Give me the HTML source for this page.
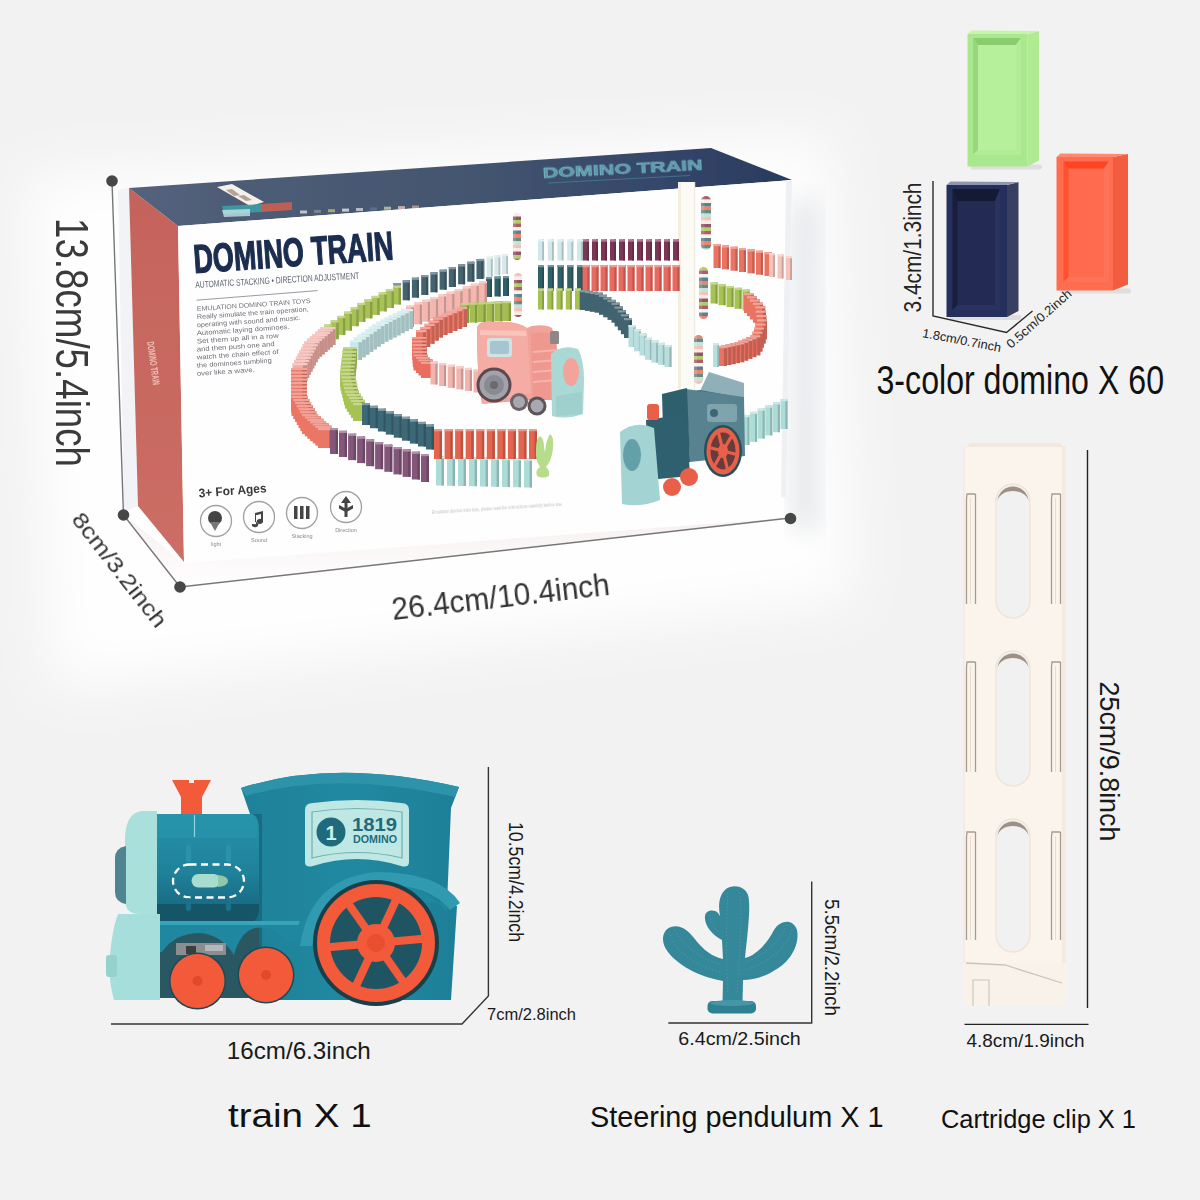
<!DOCTYPE html>
<html><head><meta charset="utf-8"><style>
html,body{margin:0;padding:0;background:#f2f2f2;}
body{width:1200px;height:1200px;overflow:hidden;font-family:"Liberation Sans",sans-serif;}
svg{display:block;}
</style></head><body>
<svg width="1200" height="1200" viewBox="0 0 1200 1200">
<defs>
<filter id="blur30" x="-30%" y="-30%" width="160%" height="160%"><feGaussianBlur stdDeviation="28"/></filter>
<filter id="blur12" x="-30%" y="-30%" width="160%" height="160%"><feGaussianBlur stdDeviation="12"/></filter>
<filter id="soft" x="-5%" y="-5%" width="110%" height="110%"><feGaussianBlur stdDeviation="0.7"/></filter>
<filter id="soft2" x="-5%" y="-5%" width="110%" height="110%"><feGaussianBlur stdDeviation="0.45"/></filter>
<linearGradient id="topface" x1="0" y1="0" x2="1" y2="0">
<stop offset="0" stop-color="#56637e"/><stop offset="0.15" stop-color="#4e5c76"/><stop offset="0.5" stop-color="#45566f"/><stop offset="0.8" stop-color="#34466a"/><stop offset="1" stop-color="#2a3b5d"/>
</linearGradient>
<linearGradient id="sidepanel" x1="0" y1="0" x2="0" y2="1">
<stop offset="0" stop-color="#c4635b"/><stop offset="1" stop-color="#cc6e66"/>
</linearGradient>
<linearGradient id="floor" x1="0" y1="0" x2="0" y2="1">
<stop offset="0" stop-color="#f7eeee"/><stop offset="1" stop-color="#ffffff"/>
</linearGradient>
</defs>
<rect x="0" y="0" width="1200" height="1200" fill="#f2f2f2"/>
<g filter="url(#blur30)"><path d="M25,175 L830,135 L855,600 L50,690 Z" fill="#ffffff" opacity="0.95"/></g>
<g filter="url(#blur12)"><rect x="792" y="200" width="26" height="330" fill="#dfe2e6" opacity="0.8"/></g>
<g filter="url(#soft2)">
<polygon points="124,515 184,563 790,518 180,587" fill="url(#floor)" opacity="0.9"/>
<polygon points="118,190 129,188 138,506 124,512" fill="#f1f3f6"/>
<polygon points="129,188 178,226 184,562 138,506" fill="url(#sidepanel)"/>
<polygon points="129,188 711,148 792,180 178,226" fill="url(#topface)"/>
<g transform="translate(543,178) rotate(-3.0)" filter="url(#soft)"><text font-family="Liberation Sans, sans-serif" font-weight="bold" font-size="14" fill="#5aa6b6" stroke="#8fd0da" stroke-width="0.5" opacity="0.85" textLength="160" lengthAdjust="spacingAndGlyphs">DOMINO TRAIN</text></g>
<line x1="548" y1="183" x2="690" y2="175.5" stroke="#4b8fa0" stroke-width="1" opacity="0.6"/>
<polygon points="217,187 232,184 264,202 250,206" fill="#f4f1ea"/>
<polygon points="226,190 232,189 240,195 234,196" fill="#8a6a5a" opacity="0.6"/><polygon points="238,196 244,195 252,200 246,201" fill="#8a6a5a" opacity="0.6"/>
<polygon points="222,206 262,204 262,212 224,214" fill="#3fa0a8" opacity="0.85"/>
<polygon points="262,204 292,202 292,210 262,212" fill="#d8604e" opacity="0.8"/>
<polygon points="222,210 250,209 250,216 224,217" fill="#bfe3e6" opacity="0.8"/>
<rect x="300.0" y="210.5" width="7" height="3" fill="#e8e8e8" opacity="0.75"/>
<rect x="314.0" y="209.9" width="7" height="3" fill="#8a8f9a" opacity="0.75"/>
<rect x="328.0" y="209.2" width="7" height="3" fill="#b8c870" opacity="0.75"/>
<rect x="342.0" y="208.6" width="7" height="3" fill="#f0f0f0" opacity="0.75"/>
<rect x="356.0" y="208.0" width="7" height="3" fill="#d8dde0" opacity="0.75"/>
<rect x="370.0" y="207.3" width="7" height="3" fill="#6a6f9a" opacity="0.75"/>
<rect x="384.0" y="206.7" width="7" height="3" fill="#c8d8b0" opacity="0.75"/>
<rect x="398.0" y="206.1" width="7" height="3" fill="#f0c8c0" opacity="0.75"/>
<rect x="412.0" y="205.5" width="7" height="3" fill="#c8a890" opacity="0.75"/>
<polygon points="178,226 792,180 786,497 184,563" fill="#fefefe"/>
<polygon points="786,180.5 792,180 786,497 781,497.5" fill="#eef0f3"/>
</g>
<g filter="url(#soft)">
<rect x="678" y="182" width="17" height="212" fill="#fcfaf4"/>
<rect x="678" y="182" width="3" height="212" fill="#f3eedf"/><rect x="694" y="182" width="1.2" height="212" fill="#f0ebe0"/>
<rect x="502.0" y="254.0" width="6.0" height="20.0" fill="#d6e8e9"/><rect x="506.2" y="254.0" width="1.8" height="20.0" fill="#afbebf"/><rect x="502.0" y="254.0" width="6.0" height="2.2" fill="#e4f0f0"/><rect x="494.3" y="255.3" width="6.0" height="20.0" fill="#d6e8e9"/><rect x="498.5" y="255.3" width="1.8" height="20.0" fill="#afbebf"/><rect x="494.3" y="255.3" width="6.0" height="2.2" fill="#e4f0f0"/><rect x="486.7" y="256.7" width="6.0" height="20.0" fill="#d6e8e9"/><rect x="490.9" y="256.7" width="1.8" height="20.0" fill="#afbebf"/><rect x="486.7" y="256.7" width="6.0" height="2.2" fill="#e4f0f0"/><rect x="479.0" y="258.0" width="6.0" height="20.0" fill="#d6e8e9"/><rect x="483.2" y="258.0" width="1.8" height="20.0" fill="#afbebf"/><rect x="479.0" y="258.0" width="6.0" height="2.2" fill="#e4f0f0"/><rect x="476.5" y="259.0" width="7.0" height="20.0" fill="#44626f"/><rect x="481.4" y="259.0" width="2.1" height="20.0" fill="#37505b"/><rect x="476.5" y="259.0" width="7.0" height="2.2" fill="#8598a1"/><rect x="467.3" y="261.7" width="7.0" height="20.0" fill="#44626f"/><rect x="472.2" y="261.7" width="2.1" height="20.0" fill="#37505b"/><rect x="467.3" y="261.7" width="7.0" height="2.2" fill="#8598a1"/><rect x="458.1" y="264.3" width="7.0" height="20.0" fill="#44626f"/><rect x="463.0" y="264.3" width="2.1" height="20.0" fill="#37505b"/><rect x="458.1" y="264.3" width="7.0" height="2.2" fill="#8598a1"/><rect x="448.8" y="267.0" width="7.0" height="20.0" fill="#44626f"/><rect x="453.7" y="267.0" width="2.1" height="20.0" fill="#37505b"/><rect x="448.8" y="267.0" width="7.0" height="2.2" fill="#8598a1"/><rect x="439.6" y="269.7" width="7.0" height="20.0" fill="#44626f"/><rect x="444.5" y="269.7" width="2.1" height="20.0" fill="#37505b"/><rect x="439.6" y="269.7" width="7.0" height="2.2" fill="#8598a1"/><rect x="430.4" y="272.3" width="7.0" height="20.0" fill="#44626f"/><rect x="435.3" y="272.3" width="2.1" height="20.0" fill="#37505b"/><rect x="430.4" y="272.3" width="7.0" height="2.2" fill="#8598a1"/><rect x="421.2" y="275.0" width="7.0" height="20.0" fill="#44626f"/><rect x="426.1" y="275.0" width="2.1" height="20.0" fill="#37505b"/><rect x="421.2" y="275.0" width="7.0" height="2.2" fill="#8598a1"/><rect x="411.9" y="277.7" width="7.0" height="20.0" fill="#44626f"/><rect x="416.8" y="277.7" width="2.1" height="20.0" fill="#37505b"/><rect x="411.9" y="277.7" width="7.0" height="2.2" fill="#8598a1"/><rect x="402.7" y="280.3" width="7.0" height="20.0" fill="#44626f"/><rect x="407.6" y="280.3" width="2.1" height="20.0" fill="#37505b"/><rect x="402.7" y="280.3" width="7.0" height="2.2" fill="#8598a1"/><rect x="393.5" y="283.0" width="7.0" height="20.0" fill="#44626f"/><rect x="398.4" y="283.0" width="2.1" height="20.0" fill="#37505b"/><rect x="393.5" y="283.0" width="7.0" height="2.2" fill="#8598a1"/><rect x="393.0" y="285.5" width="8.0" height="19.0" fill="#a9c257"/><rect x="398.6" y="285.5" width="2.4" height="19.0" fill="#8a9f47"/><rect x="393.0" y="285.5" width="8.0" height="2.2" fill="#c7d791"/><rect x="385.9" y="289.0" width="8.0" height="19.0" fill="#a9c257"/><rect x="391.5" y="289.0" width="2.4" height="19.0" fill="#8a9f47"/><rect x="385.9" y="289.0" width="8.0" height="2.2" fill="#c7d791"/><rect x="378.7" y="292.4" width="8.0" height="19.0" fill="#a9c257"/><rect x="384.3" y="292.4" width="2.4" height="19.0" fill="#8a9f47"/><rect x="378.7" y="292.4" width="8.0" height="2.2" fill="#c7d791"/><rect x="371.6" y="295.9" width="8.0" height="19.0" fill="#a9c257"/><rect x="377.2" y="295.9" width="2.4" height="19.0" fill="#8a9f47"/><rect x="371.6" y="295.9" width="8.0" height="2.2" fill="#c7d791"/><rect x="364.4" y="299.4" width="8.0" height="19.0" fill="#a9c257"/><rect x="370.0" y="299.4" width="2.4" height="19.0" fill="#8a9f47"/><rect x="364.4" y="299.4" width="8.0" height="2.2" fill="#c7d791"/><rect x="357.3" y="302.9" width="8.0" height="19.0" fill="#a9c257"/><rect x="362.9" y="302.9" width="2.4" height="19.0" fill="#8a9f47"/><rect x="357.3" y="302.9" width="8.0" height="2.2" fill="#c7d791"/><rect x="350.7" y="307.2" width="8.0" height="19.0" fill="#a9c257"/><rect x="356.3" y="307.2" width="2.4" height="19.0" fill="#8a9f47"/><rect x="350.7" y="307.2" width="8.0" height="2.2" fill="#c7d791"/><rect x="344.0" y="311.6" width="8.0" height="19.0" fill="#a9c257"/><rect x="349.6" y="311.6" width="2.4" height="19.0" fill="#8a9f47"/><rect x="344.0" y="311.6" width="8.0" height="2.2" fill="#c7d791"/><rect x="337.3" y="315.9" width="8.0" height="19.0" fill="#a9c257"/><rect x="342.9" y="315.9" width="2.4" height="19.0" fill="#8a9f47"/><rect x="337.3" y="315.9" width="8.0" height="2.2" fill="#c7d791"/><rect x="330.7" y="320.2" width="8.0" height="19.0" fill="#a9c257"/><rect x="336.3" y="320.2" width="2.4" height="19.0" fill="#8a9f47"/><rect x="330.7" y="320.2" width="8.0" height="2.2" fill="#c7d791"/><rect x="324.0" y="324.5" width="8.0" height="19.0" fill="#a9c257"/><rect x="329.6" y="324.5" width="2.4" height="19.0" fill="#8a9f47"/><rect x="324.0" y="324.5" width="8.0" height="2.2" fill="#c7d791"/><rect x="320.5" y="327.0" width="15.0" height="18.0" fill="#f2aea6"/><rect x="331.0" y="327.0" width="4.5" height="18.0" fill="#c68e88"/><rect x="320.5" y="327.0" width="15.0" height="2.2" fill="#f6cac5"/><rect x="317.8" y="329.3" width="15.0" height="18.0" fill="#f2aea6"/><rect x="328.3" y="329.3" width="4.5" height="18.0" fill="#c68e88"/><rect x="317.8" y="329.3" width="15.0" height="2.2" fill="#f6cac5"/><rect x="315.1" y="331.7" width="15.0" height="18.0" fill="#f2aea6"/><rect x="325.6" y="331.7" width="4.5" height="18.0" fill="#c68e88"/><rect x="315.1" y="331.7" width="15.0" height="2.2" fill="#f6cac5"/><rect x="312.5" y="334.0" width="15.0" height="18.0" fill="#f2aea6"/><rect x="323.0" y="334.0" width="4.5" height="18.0" fill="#c68e88"/><rect x="312.5" y="334.0" width="15.0" height="2.2" fill="#f6cac5"/><rect x="309.8" y="336.4" width="15.0" height="18.0" fill="#f2aea6"/><rect x="320.3" y="336.4" width="4.5" height="18.0" fill="#c68e88"/><rect x="309.8" y="336.4" width="15.0" height="2.2" fill="#f6cac5"/><rect x="307.1" y="338.7" width="15.0" height="18.0" fill="#f2aea6"/><rect x="317.6" y="338.7" width="4.5" height="18.0" fill="#c68e88"/><rect x="307.1" y="338.7" width="15.0" height="2.2" fill="#f6cac5"/><rect x="304.4" y="341.1" width="15.0" height="18.0" fill="#f2aea6"/><rect x="314.9" y="341.1" width="4.5" height="18.0" fill="#c68e88"/><rect x="304.4" y="341.1" width="15.0" height="2.2" fill="#f6cac5"/><rect x="302.7" y="344.2" width="15.0" height="18.0" fill="#f2aea6"/><rect x="313.2" y="344.2" width="4.5" height="18.0" fill="#c68e88"/><rect x="302.7" y="344.2" width="15.0" height="2.2" fill="#f6cac5"/><rect x="301.0" y="347.4" width="15.0" height="18.0" fill="#f2aea6"/><rect x="311.5" y="347.4" width="4.5" height="18.0" fill="#c68e88"/><rect x="301.0" y="347.4" width="15.0" height="2.2" fill="#f6cac5"/><rect x="299.3" y="350.5" width="15.0" height="18.0" fill="#f2aea6"/><rect x="309.8" y="350.5" width="4.5" height="18.0" fill="#c68e88"/><rect x="299.3" y="350.5" width="15.0" height="2.2" fill="#f6cac5"/><rect x="297.6" y="353.6" width="15.0" height="18.0" fill="#f2aea6"/><rect x="308.1" y="353.6" width="4.5" height="18.0" fill="#c68e88"/><rect x="297.6" y="353.6" width="15.0" height="2.2" fill="#f6cac5"/><rect x="295.9" y="356.7" width="15.0" height="18.0" fill="#f2aea6"/><rect x="306.4" y="356.7" width="4.5" height="18.0" fill="#c68e88"/><rect x="295.9" y="356.7" width="15.0" height="2.2" fill="#f6cac5"/><rect x="294.2" y="359.9" width="15.0" height="18.0" fill="#f2aea6"/><rect x="304.7" y="359.9" width="4.5" height="18.0" fill="#c68e88"/><rect x="294.2" y="359.9" width="15.0" height="2.2" fill="#f6cac5"/><rect x="292.5" y="363.0" width="15.0" height="18.0" fill="#f2aea6"/><rect x="303.0" y="363.0" width="4.5" height="18.0" fill="#c68e88"/><rect x="292.5" y="363.0" width="15.0" height="2.2" fill="#f6cac5"/><rect x="291.0" y="368.0" width="16.0" height="20.0" fill="#ea7665"/><rect x="302.2" y="368.0" width="4.8" height="20.0" fill="#bf6052"/><rect x="291.0" y="368.0" width="16.0" height="2.2" fill="#f1a59a"/><rect x="291.0" y="371.5" width="16.0" height="20.0" fill="#ea7665"/><rect x="302.2" y="371.5" width="4.8" height="20.0" fill="#bf6052"/><rect x="291.0" y="371.5" width="16.0" height="2.2" fill="#f1a59a"/><rect x="291.0" y="375.0" width="16.0" height="20.0" fill="#ea7665"/><rect x="302.2" y="375.0" width="4.8" height="20.0" fill="#bf6052"/><rect x="291.0" y="375.0" width="16.0" height="2.2" fill="#f1a59a"/><rect x="291.0" y="378.5" width="16.0" height="20.0" fill="#ea7665"/><rect x="302.2" y="378.5" width="4.8" height="20.0" fill="#bf6052"/><rect x="291.0" y="378.5" width="16.0" height="2.2" fill="#f1a59a"/><rect x="291.0" y="382.0" width="16.0" height="20.0" fill="#ea7665"/><rect x="302.2" y="382.0" width="4.8" height="20.0" fill="#bf6052"/><rect x="291.0" y="382.0" width="16.0" height="2.2" fill="#f1a59a"/><rect x="291.0" y="385.6" width="16.0" height="20.0" fill="#ea7665"/><rect x="302.2" y="385.6" width="4.8" height="20.0" fill="#bf6052"/><rect x="291.0" y="385.6" width="16.0" height="2.2" fill="#f1a59a"/><rect x="291.0" y="389.1" width="16.0" height="20.0" fill="#ea7665"/><rect x="302.2" y="389.1" width="4.8" height="20.0" fill="#bf6052"/><rect x="291.0" y="389.1" width="16.0" height="2.2" fill="#f1a59a"/><rect x="291.0" y="392.6" width="16.0" height="20.0" fill="#ea7665"/><rect x="302.2" y="392.6" width="4.8" height="20.0" fill="#bf6052"/><rect x="291.0" y="392.6" width="16.0" height="2.2" fill="#f1a59a"/><rect x="291.5" y="395.9" width="16.0" height="20.0" fill="#ea7665"/><rect x="302.7" y="395.9" width="4.8" height="20.0" fill="#bf6052"/><rect x="291.5" y="395.9" width="16.0" height="2.2" fill="#f1a59a"/><rect x="293.3" y="399.0" width="16.0" height="20.0" fill="#ea7665"/><rect x="304.5" y="399.0" width="4.8" height="20.0" fill="#bf6052"/><rect x="293.3" y="399.0" width="16.0" height="2.2" fill="#f1a59a"/><rect x="295.1" y="402.0" width="16.0" height="20.0" fill="#ea7665"/><rect x="306.3" y="402.0" width="4.8" height="20.0" fill="#bf6052"/><rect x="295.1" y="402.0" width="16.0" height="2.2" fill="#f1a59a"/><rect x="296.8" y="405.1" width="16.0" height="20.0" fill="#ea7665"/><rect x="308.0" y="405.1" width="4.8" height="20.0" fill="#bf6052"/><rect x="296.8" y="405.1" width="16.0" height="2.2" fill="#f1a59a"/><rect x="298.6" y="408.1" width="16.0" height="20.0" fill="#ea7665"/><rect x="309.8" y="408.1" width="4.8" height="20.0" fill="#bf6052"/><rect x="298.6" y="408.1" width="16.0" height="2.2" fill="#f1a59a"/><rect x="300.3" y="411.1" width="16.0" height="20.0" fill="#ea7665"/><rect x="311.5" y="411.1" width="4.8" height="20.0" fill="#bf6052"/><rect x="300.3" y="411.1" width="16.0" height="2.2" fill="#f1a59a"/><rect x="302.1" y="414.1" width="16.0" height="20.0" fill="#ea7665"/><rect x="313.3" y="414.1" width="4.8" height="20.0" fill="#bf6052"/><rect x="302.1" y="414.1" width="16.0" height="2.2" fill="#f1a59a"/><rect x="304.8" y="416.4" width="16.0" height="20.0" fill="#ea7665"/><rect x="316.0" y="416.4" width="4.8" height="20.0" fill="#bf6052"/><rect x="304.8" y="416.4" width="16.0" height="2.2" fill="#f1a59a"/><rect x="307.4" y="418.8" width="16.0" height="20.0" fill="#ea7665"/><rect x="318.6" y="418.8" width="4.8" height="20.0" fill="#bf6052"/><rect x="307.4" y="418.8" width="16.0" height="2.2" fill="#f1a59a"/><rect x="310.1" y="421.1" width="16.0" height="20.0" fill="#ea7665"/><rect x="321.3" y="421.1" width="4.8" height="20.0" fill="#bf6052"/><rect x="310.1" y="421.1" width="16.0" height="2.2" fill="#f1a59a"/><rect x="312.7" y="423.4" width="16.0" height="20.0" fill="#ea7665"/><rect x="323.9" y="423.4" width="4.8" height="20.0" fill="#bf6052"/><rect x="312.7" y="423.4" width="16.0" height="2.2" fill="#f1a59a"/><rect x="315.4" y="425.7" width="16.0" height="20.0" fill="#ea7665"/><rect x="326.6" y="425.7" width="4.8" height="20.0" fill="#bf6052"/><rect x="315.4" y="425.7" width="16.0" height="2.2" fill="#f1a59a"/><rect x="318.0" y="428.0" width="16.0" height="20.0" fill="#ea7665"/><rect x="329.2" y="428.0" width="4.8" height="20.0" fill="#bf6052"/><rect x="318.0" y="428.0" width="16.0" height="2.2" fill="#f1a59a"/><rect x="330.0" y="428.0" width="8.0" height="26.0" fill="#84577a"/><rect x="335.6" y="428.0" width="2.4" height="26.0" fill="#6c4764"/><rect x="330.0" y="428.0" width="8.0" height="2.2" fill="#af91a8"/><rect x="339.0" y="430.8" width="8.0" height="26.2" fill="#84577a"/><rect x="344.6" y="430.8" width="2.4" height="26.2" fill="#6c4764"/><rect x="339.0" y="430.8" width="8.0" height="2.2" fill="#af91a8"/><rect x="348.1" y="433.7" width="8.0" height="26.4" fill="#84577a"/><rect x="353.7" y="433.7" width="2.4" height="26.4" fill="#6c4764"/><rect x="348.1" y="433.7" width="8.0" height="2.2" fill="#af91a8"/><rect x="357.1" y="436.5" width="8.0" height="26.6" fill="#84577a"/><rect x="362.7" y="436.5" width="2.4" height="26.6" fill="#6c4764"/><rect x="357.1" y="436.5" width="8.0" height="2.2" fill="#af91a8"/><rect x="366.1" y="439.4" width="8.0" height="26.8" fill="#84577a"/><rect x="371.7" y="439.4" width="2.4" height="26.8" fill="#6c4764"/><rect x="366.1" y="439.4" width="8.0" height="2.2" fill="#af91a8"/><rect x="375.1" y="442.2" width="8.0" height="27.0" fill="#84577a"/><rect x="380.7" y="442.2" width="2.4" height="27.0" fill="#6c4764"/><rect x="375.1" y="442.2" width="8.0" height="2.2" fill="#af91a8"/><rect x="384.3" y="444.6" width="8.0" height="27.2" fill="#84577a"/><rect x="389.9" y="444.6" width="2.4" height="27.2" fill="#6c4764"/><rect x="384.3" y="444.6" width="8.0" height="2.2" fill="#af91a8"/><rect x="393.5" y="447.0" width="8.0" height="27.4" fill="#84577a"/><rect x="399.1" y="447.0" width="2.4" height="27.4" fill="#6c4764"/><rect x="393.5" y="447.0" width="8.0" height="2.2" fill="#af91a8"/><rect x="402.6" y="449.3" width="8.0" height="27.6" fill="#84577a"/><rect x="408.2" y="449.3" width="2.4" height="27.6" fill="#6c4764"/><rect x="402.6" y="449.3" width="8.0" height="2.2" fill="#af91a8"/><rect x="411.8" y="451.7" width="8.0" height="27.8" fill="#84577a"/><rect x="417.4" y="451.7" width="2.4" height="27.8" fill="#6c4764"/><rect x="411.8" y="451.7" width="8.0" height="2.2" fill="#af91a8"/><rect x="421.0" y="454.0" width="8.0" height="28.0" fill="#84577a"/><rect x="426.6" y="454.0" width="2.4" height="28.0" fill="#6c4764"/><rect x="421.0" y="454.0" width="8.0" height="2.2" fill="#af91a8"/><rect x="436.0" y="456.5" width="8.0" height="29.0" fill="#acdcd7"/><rect x="441.6" y="456.5" width="2.4" height="29.0" fill="#8db4b0"/><rect x="436.0" y="456.5" width="8.0" height="2.2" fill="#c9e8e5"/><rect x="447.0" y="456.8" width="8.0" height="29.0" fill="#acdcd7"/><rect x="452.6" y="456.8" width="2.4" height="29.0" fill="#8db4b0"/><rect x="447.0" y="456.8" width="8.0" height="2.2" fill="#c9e8e5"/><rect x="458.0" y="457.0" width="8.0" height="29.0" fill="#acdcd7"/><rect x="463.6" y="457.0" width="2.4" height="29.0" fill="#8db4b0"/><rect x="458.0" y="457.0" width="8.0" height="2.2" fill="#c9e8e5"/><rect x="469.0" y="457.2" width="8.0" height="29.0" fill="#acdcd7"/><rect x="474.6" y="457.2" width="2.4" height="29.0" fill="#8db4b0"/><rect x="469.0" y="457.2" width="8.0" height="2.2" fill="#c9e8e5"/><rect x="480.0" y="457.5" width="8.0" height="29.0" fill="#acdcd7"/><rect x="485.6" y="457.5" width="2.4" height="29.0" fill="#8db4b0"/><rect x="480.0" y="457.5" width="8.0" height="2.2" fill="#c9e8e5"/><rect x="491.0" y="457.8" width="8.0" height="29.0" fill="#acdcd7"/><rect x="496.6" y="457.8" width="2.4" height="29.0" fill="#8db4b0"/><rect x="491.0" y="457.8" width="8.0" height="2.2" fill="#c9e8e5"/><rect x="502.0" y="458.0" width="8.0" height="29.0" fill="#acdcd7"/><rect x="507.6" y="458.0" width="2.4" height="29.0" fill="#8db4b0"/><rect x="502.0" y="458.0" width="8.0" height="2.2" fill="#c9e8e5"/><rect x="513.0" y="458.2" width="8.0" height="29.0" fill="#acdcd7"/><rect x="518.6" y="458.2" width="2.4" height="29.0" fill="#8db4b0"/><rect x="513.0" y="458.2" width="8.0" height="2.2" fill="#c9e8e5"/><rect x="524.0" y="458.5" width="8.0" height="29.0" fill="#acdcd7"/><rect x="529.6" y="458.5" width="2.4" height="29.0" fill="#8db4b0"/><rect x="524.0" y="458.5" width="8.0" height="2.2" fill="#c9e8e5"/><rect x="503.0" y="276.0" width="6.0" height="20.0" fill="#2f5e6a"/><rect x="507.2" y="276.0" width="1.8" height="20.0" fill="#264d56"/><rect x="503.0" y="276.0" width="6.0" height="2.2" fill="#77969e"/><rect x="494.5" y="276.5" width="6.0" height="20.0" fill="#2f5e6a"/><rect x="498.7" y="276.5" width="1.8" height="20.0" fill="#264d56"/><rect x="494.5" y="276.5" width="6.0" height="2.2" fill="#77969e"/><rect x="486.0" y="277.0" width="6.0" height="20.0" fill="#2f5e6a"/><rect x="490.2" y="277.0" width="1.8" height="20.0" fill="#264d56"/><rect x="486.0" y="277.0" width="6.0" height="2.2" fill="#77969e"/><rect x="479.0" y="281.0" width="8.0" height="22.0" fill="#f4b6ae"/><rect x="484.6" y="281.0" width="2.4" height="22.0" fill="#c8958e"/><rect x="479.0" y="281.0" width="8.0" height="2.2" fill="#f7cfca"/><rect x="470.9" y="283.7" width="8.0" height="22.0" fill="#f4b6ae"/><rect x="476.5" y="283.7" width="2.4" height="22.0" fill="#c8958e"/><rect x="470.9" y="283.7" width="8.0" height="2.2" fill="#f7cfca"/><rect x="462.8" y="286.3" width="8.0" height="22.0" fill="#f4b6ae"/><rect x="468.4" y="286.3" width="2.4" height="22.0" fill="#c8958e"/><rect x="462.8" y="286.3" width="8.0" height="2.2" fill="#f7cfca"/><rect x="454.7" y="289.0" width="8.0" height="22.0" fill="#f4b6ae"/><rect x="460.3" y="289.0" width="2.4" height="22.0" fill="#c8958e"/><rect x="454.7" y="289.0" width="8.0" height="2.2" fill="#f7cfca"/><rect x="446.6" y="291.7" width="8.0" height="22.0" fill="#f4b6ae"/><rect x="452.2" y="291.7" width="2.4" height="22.0" fill="#c8958e"/><rect x="446.6" y="291.7" width="8.0" height="2.2" fill="#f7cfca"/><rect x="438.4" y="294.3" width="8.0" height="22.0" fill="#f4b6ae"/><rect x="444.0" y="294.3" width="2.4" height="22.0" fill="#c8958e"/><rect x="438.4" y="294.3" width="8.0" height="2.2" fill="#f7cfca"/><rect x="430.3" y="297.0" width="8.0" height="22.0" fill="#f4b6ae"/><rect x="435.9" y="297.0" width="2.4" height="22.0" fill="#c8958e"/><rect x="430.3" y="297.0" width="8.0" height="2.2" fill="#f7cfca"/><rect x="422.2" y="299.7" width="8.0" height="22.0" fill="#f4b6ae"/><rect x="427.8" y="299.7" width="2.4" height="22.0" fill="#c8958e"/><rect x="422.2" y="299.7" width="8.0" height="2.2" fill="#f7cfca"/><rect x="414.1" y="302.3" width="8.0" height="22.0" fill="#f4b6ae"/><rect x="419.7" y="302.3" width="2.4" height="22.0" fill="#c8958e"/><rect x="414.1" y="302.3" width="8.0" height="2.2" fill="#f7cfca"/><rect x="406.0" y="305.0" width="8.0" height="22.0" fill="#f4b6ae"/><rect x="411.6" y="305.0" width="2.4" height="22.0" fill="#c8958e"/><rect x="406.0" y="305.0" width="8.0" height="2.2" fill="#f7cfca"/><rect x="401.0" y="309.0" width="12.0" height="20.0" fill="#c8e9ea"/><rect x="409.4" y="309.0" width="3.6" height="20.0" fill="#a4bfbf"/><rect x="401.0" y="309.0" width="12.0" height="2.2" fill="#dbf0f1"/><rect x="396.9" y="311.1" width="12.0" height="20.0" fill="#c8e9ea"/><rect x="405.3" y="311.1" width="3.6" height="20.0" fill="#a4bfbf"/><rect x="396.9" y="311.1" width="12.0" height="2.2" fill="#dbf0f1"/><rect x="392.8" y="313.2" width="12.0" height="20.0" fill="#c8e9ea"/><rect x="401.2" y="313.2" width="3.6" height="20.0" fill="#a4bfbf"/><rect x="392.8" y="313.2" width="12.0" height="2.2" fill="#dbf0f1"/><rect x="388.7" y="315.4" width="12.0" height="20.0" fill="#c8e9ea"/><rect x="397.1" y="315.4" width="3.6" height="20.0" fill="#a4bfbf"/><rect x="388.7" y="315.4" width="12.0" height="2.2" fill="#dbf0f1"/><rect x="384.7" y="317.5" width="12.0" height="20.0" fill="#c8e9ea"/><rect x="393.1" y="317.5" width="3.6" height="20.0" fill="#a4bfbf"/><rect x="384.7" y="317.5" width="12.0" height="2.2" fill="#dbf0f1"/><rect x="380.6" y="319.6" width="12.0" height="20.0" fill="#c8e9ea"/><rect x="389.0" y="319.6" width="3.6" height="20.0" fill="#a4bfbf"/><rect x="380.6" y="319.6" width="12.0" height="2.2" fill="#dbf0f1"/><rect x="376.5" y="321.7" width="12.0" height="20.0" fill="#c8e9ea"/><rect x="384.9" y="321.7" width="3.6" height="20.0" fill="#a4bfbf"/><rect x="376.5" y="321.7" width="12.0" height="2.2" fill="#dbf0f1"/><rect x="372.5" y="324.0" width="12.0" height="20.0" fill="#c8e9ea"/><rect x="380.9" y="324.0" width="3.6" height="20.0" fill="#a4bfbf"/><rect x="372.5" y="324.0" width="12.0" height="2.2" fill="#dbf0f1"/><rect x="368.8" y="326.7" width="12.0" height="20.0" fill="#c8e9ea"/><rect x="377.2" y="326.7" width="3.6" height="20.0" fill="#a4bfbf"/><rect x="368.8" y="326.7" width="12.0" height="2.2" fill="#dbf0f1"/><rect x="365.0" y="329.4" width="12.0" height="20.0" fill="#c8e9ea"/><rect x="373.4" y="329.4" width="3.6" height="20.0" fill="#a4bfbf"/><rect x="365.0" y="329.4" width="12.0" height="2.2" fill="#dbf0f1"/><rect x="361.3" y="332.0" width="12.0" height="20.0" fill="#c8e9ea"/><rect x="369.7" y="332.0" width="3.6" height="20.0" fill="#a4bfbf"/><rect x="361.3" y="332.0" width="12.0" height="2.2" fill="#dbf0f1"/><rect x="357.5" y="334.7" width="12.0" height="20.0" fill="#c8e9ea"/><rect x="365.9" y="334.7" width="3.6" height="20.0" fill="#a4bfbf"/><rect x="357.5" y="334.7" width="12.0" height="2.2" fill="#dbf0f1"/><rect x="353.8" y="337.3" width="12.0" height="20.0" fill="#c8e9ea"/><rect x="362.2" y="337.3" width="3.6" height="20.0" fill="#a4bfbf"/><rect x="353.8" y="337.3" width="12.0" height="2.2" fill="#dbf0f1"/><rect x="350.0" y="340.0" width="12.0" height="20.0" fill="#c8e9ea"/><rect x="358.4" y="340.0" width="3.6" height="20.0" fill="#a4bfbf"/><rect x="350.0" y="340.0" width="12.0" height="2.2" fill="#dbf0f1"/><rect x="343.0" y="347.0" width="14.0" height="18.0" fill="#a6c254"/><rect x="352.8" y="347.0" width="4.2" height="18.0" fill="#889f44"/><rect x="343.0" y="347.0" width="14.0" height="2.2" fill="#c5d78f"/><rect x="342.5" y="350.7" width="14.0" height="18.0" fill="#a6c254"/><rect x="352.3" y="350.7" width="4.2" height="18.0" fill="#889f44"/><rect x="342.5" y="350.7" width="14.0" height="2.2" fill="#c5d78f"/><rect x="342.1" y="354.3" width="14.0" height="18.0" fill="#a6c254"/><rect x="351.9" y="354.3" width="4.2" height="18.0" fill="#889f44"/><rect x="342.1" y="354.3" width="14.0" height="2.2" fill="#c5d78f"/><rect x="341.6" y="358.0" width="14.0" height="18.0" fill="#a6c254"/><rect x="351.4" y="358.0" width="4.2" height="18.0" fill="#889f44"/><rect x="341.6" y="358.0" width="14.0" height="2.2" fill="#c5d78f"/><rect x="341.2" y="361.7" width="14.0" height="18.0" fill="#a6c254"/><rect x="351.0" y="361.7" width="4.2" height="18.0" fill="#889f44"/><rect x="341.2" y="361.7" width="14.0" height="2.2" fill="#c5d78f"/><rect x="340.7" y="365.4" width="14.0" height="18.0" fill="#a6c254"/><rect x="350.5" y="365.4" width="4.2" height="18.0" fill="#889f44"/><rect x="340.7" y="365.4" width="14.0" height="2.2" fill="#c5d78f"/><rect x="340.2" y="369.0" width="14.0" height="18.0" fill="#a6c254"/><rect x="350.0" y="369.0" width="4.2" height="18.0" fill="#889f44"/><rect x="340.2" y="369.0" width="14.0" height="2.2" fill="#c5d78f"/><rect x="340.4" y="372.7" width="14.0" height="18.0" fill="#a6c254"/><rect x="350.2" y="372.7" width="4.2" height="18.0" fill="#889f44"/><rect x="340.4" y="372.7" width="14.0" height="2.2" fill="#c5d78f"/><rect x="341.3" y="376.3" width="14.0" height="18.0" fill="#a6c254"/><rect x="351.1" y="376.3" width="4.2" height="18.0" fill="#889f44"/><rect x="341.3" y="376.3" width="14.0" height="2.2" fill="#c5d78f"/><rect x="342.2" y="379.9" width="14.0" height="18.0" fill="#a6c254"/><rect x="352.0" y="379.9" width="4.2" height="18.0" fill="#889f44"/><rect x="342.2" y="379.9" width="14.0" height="2.2" fill="#c5d78f"/><rect x="343.1" y="383.4" width="14.0" height="18.0" fill="#a6c254"/><rect x="352.9" y="383.4" width="4.2" height="18.0" fill="#889f44"/><rect x="343.1" y="383.4" width="14.0" height="2.2" fill="#c5d78f"/><rect x="344.0" y="387.0" width="14.0" height="18.0" fill="#a6c254"/><rect x="353.8" y="387.0" width="4.2" height="18.0" fill="#889f44"/><rect x="344.0" y="387.0" width="14.0" height="2.2" fill="#c5d78f"/><rect x="344.9" y="390.6" width="14.0" height="18.0" fill="#a6c254"/><rect x="354.7" y="390.6" width="4.2" height="18.0" fill="#889f44"/><rect x="344.9" y="390.6" width="14.0" height="2.2" fill="#c5d78f"/><rect x="346.8" y="393.8" width="14.0" height="18.0" fill="#a6c254"/><rect x="356.6" y="393.8" width="4.2" height="18.0" fill="#889f44"/><rect x="346.8" y="393.8" width="14.0" height="2.2" fill="#c5d78f"/><rect x="348.9" y="396.8" width="14.0" height="18.0" fill="#a6c254"/><rect x="358.7" y="396.8" width="4.2" height="18.0" fill="#889f44"/><rect x="348.9" y="396.8" width="14.0" height="2.2" fill="#c5d78f"/><rect x="350.9" y="399.9" width="14.0" height="18.0" fill="#a6c254"/><rect x="360.7" y="399.9" width="4.2" height="18.0" fill="#889f44"/><rect x="350.9" y="399.9" width="14.0" height="2.2" fill="#c5d78f"/><rect x="353.0" y="403.0" width="14.0" height="18.0" fill="#a6c254"/><rect x="362.8" y="403.0" width="4.2" height="18.0" fill="#889f44"/><rect x="353.0" y="403.0" width="14.0" height="2.2" fill="#c5d78f"/><rect x="362.0" y="403.0" width="8.0" height="22.0" fill="#3e6877"/><rect x="367.6" y="403.0" width="2.4" height="22.0" fill="#325561"/><rect x="362.0" y="403.0" width="8.0" height="2.2" fill="#819ca6"/><rect x="369.9" y="405.8" width="8.0" height="22.4" fill="#3e6877"/><rect x="375.5" y="405.8" width="2.4" height="22.4" fill="#325561"/><rect x="369.9" y="405.8" width="8.0" height="2.2" fill="#819ca6"/><rect x="377.9" y="408.7" width="8.0" height="22.8" fill="#3e6877"/><rect x="383.5" y="408.7" width="2.4" height="22.8" fill="#325561"/><rect x="377.9" y="408.7" width="8.0" height="2.2" fill="#819ca6"/><rect x="385.8" y="411.5" width="8.0" height="23.1" fill="#3e6877"/><rect x="391.4" y="411.5" width="2.4" height="23.1" fill="#325561"/><rect x="385.8" y="411.5" width="8.0" height="2.2" fill="#819ca6"/><rect x="393.8" y="414.2" width="8.0" height="23.5" fill="#3e6877"/><rect x="399.4" y="414.2" width="2.4" height="23.5" fill="#325561"/><rect x="393.8" y="414.2" width="8.0" height="2.2" fill="#819ca6"/><rect x="401.9" y="416.8" width="8.0" height="23.9" fill="#3e6877"/><rect x="407.5" y="416.8" width="2.4" height="23.9" fill="#325561"/><rect x="401.9" y="416.8" width="8.0" height="2.2" fill="#819ca6"/><rect x="409.9" y="419.4" width="8.0" height="24.2" fill="#3e6877"/><rect x="415.5" y="419.4" width="2.4" height="24.2" fill="#325561"/><rect x="409.9" y="419.4" width="8.0" height="2.2" fill="#819ca6"/><rect x="418.0" y="421.9" width="8.0" height="24.6" fill="#3e6877"/><rect x="423.6" y="421.9" width="2.4" height="24.6" fill="#325561"/><rect x="418.0" y="421.9" width="8.0" height="2.2" fill="#819ca6"/><rect x="426.0" y="424.5" width="8.0" height="25.0" fill="#3e6877"/><rect x="431.6" y="424.5" width="2.4" height="25.0" fill="#325561"/><rect x="426.0" y="424.5" width="8.0" height="2.2" fill="#819ca6"/><rect x="434.0" y="429.0" width="8.0" height="30.0" fill="#e4654f"/><rect x="439.6" y="429.0" width="2.4" height="30.0" fill="#ba5240"/><rect x="434.0" y="429.0" width="8.0" height="2.2" fill="#ed9a8c"/><rect x="444.6" y="429.0" width="8.0" height="30.0" fill="#e4654f"/><rect x="450.2" y="429.0" width="2.4" height="30.0" fill="#ba5240"/><rect x="444.6" y="429.0" width="8.0" height="2.2" fill="#ed9a8c"/><rect x="455.1" y="429.0" width="8.0" height="30.0" fill="#e4654f"/><rect x="460.7" y="429.0" width="2.4" height="30.0" fill="#ba5240"/><rect x="455.1" y="429.0" width="8.0" height="2.2" fill="#ed9a8c"/><rect x="465.7" y="429.0" width="8.0" height="30.0" fill="#e4654f"/><rect x="471.3" y="429.0" width="2.4" height="30.0" fill="#ba5240"/><rect x="465.7" y="429.0" width="8.0" height="2.2" fill="#ed9a8c"/><rect x="476.2" y="429.0" width="8.0" height="30.0" fill="#e4654f"/><rect x="481.8" y="429.0" width="2.4" height="30.0" fill="#ba5240"/><rect x="476.2" y="429.0" width="8.0" height="2.2" fill="#ed9a8c"/><rect x="486.8" y="429.0" width="8.0" height="30.0" fill="#e4654f"/><rect x="492.4" y="429.0" width="2.4" height="30.0" fill="#ba5240"/><rect x="486.8" y="429.0" width="8.0" height="2.2" fill="#ed9a8c"/><rect x="497.3" y="429.0" width="8.0" height="30.0" fill="#e4654f"/><rect x="502.9" y="429.0" width="2.4" height="30.0" fill="#ba5240"/><rect x="497.3" y="429.0" width="8.0" height="2.2" fill="#ed9a8c"/><rect x="507.9" y="429.0" width="8.0" height="30.0" fill="#e4654f"/><rect x="513.5" y="429.0" width="2.4" height="30.0" fill="#ba5240"/><rect x="507.9" y="429.0" width="8.0" height="2.2" fill="#ed9a8c"/><rect x="518.4" y="429.0" width="8.0" height="30.0" fill="#e4654f"/><rect x="524.0" y="429.0" width="2.4" height="30.0" fill="#ba5240"/><rect x="518.4" y="429.0" width="8.0" height="2.2" fill="#ed9a8c"/><rect x="529.0" y="429.0" width="8.0" height="30.0" fill="#e4654f"/><rect x="534.6" y="429.0" width="2.4" height="30.0" fill="#ba5240"/><rect x="529.0" y="429.0" width="8.0" height="2.2" fill="#ed9a8c"/><rect x="503.0" y="301.0" width="8.0" height="20.0" fill="#a3bd50"/><rect x="508.6" y="301.0" width="2.4" height="20.0" fill="#859a41"/><rect x="503.0" y="301.0" width="8.0" height="2.2" fill="#c3d48d"/><rect x="494.6" y="301.4" width="8.0" height="20.0" fill="#a3bd50"/><rect x="500.2" y="301.4" width="2.4" height="20.0" fill="#859a41"/><rect x="494.6" y="301.4" width="8.0" height="2.2" fill="#c3d48d"/><rect x="486.2" y="301.8" width="8.0" height="20.0" fill="#a3bd50"/><rect x="491.8" y="301.8" width="2.4" height="20.0" fill="#859a41"/><rect x="486.2" y="301.8" width="8.0" height="2.2" fill="#c3d48d"/><rect x="477.8" y="302.2" width="8.0" height="20.0" fill="#a3bd50"/><rect x="483.4" y="302.2" width="2.4" height="20.0" fill="#859a41"/><rect x="477.8" y="302.2" width="8.0" height="2.2" fill="#c3d48d"/><rect x="469.4" y="302.6" width="8.0" height="20.0" fill="#a3bd50"/><rect x="475.0" y="302.6" width="2.4" height="20.0" fill="#859a41"/><rect x="469.4" y="302.6" width="8.0" height="2.2" fill="#c3d48d"/><rect x="461.0" y="303.0" width="8.0" height="20.0" fill="#a3bd50"/><rect x="466.6" y="303.0" width="2.4" height="20.0" fill="#859a41"/><rect x="461.0" y="303.0" width="8.0" height="2.2" fill="#c3d48d"/><rect x="457.0" y="307.0" width="10.0" height="20.0" fill="#ee7867"/><rect x="464.0" y="307.0" width="3.0" height="20.0" fill="#c36254"/><rect x="457.0" y="307.0" width="10.0" height="2.2" fill="#f3a79c"/><rect x="452.1" y="309.0" width="10.0" height="20.0" fill="#ee7867"/><rect x="459.1" y="309.0" width="3.0" height="20.0" fill="#c36254"/><rect x="452.1" y="309.0" width="10.0" height="2.2" fill="#f3a79c"/><rect x="447.3" y="311.0" width="10.0" height="20.0" fill="#ee7867"/><rect x="454.3" y="311.0" width="3.0" height="20.0" fill="#c36254"/><rect x="447.3" y="311.0" width="10.0" height="2.2" fill="#f3a79c"/><rect x="442.4" y="313.0" width="10.0" height="20.0" fill="#ee7867"/><rect x="449.4" y="313.0" width="3.0" height="20.0" fill="#c36254"/><rect x="442.4" y="313.0" width="10.0" height="2.2" fill="#f3a79c"/><rect x="437.5" y="315.0" width="10.0" height="20.0" fill="#ee7867"/><rect x="444.5" y="315.0" width="3.0" height="20.0" fill="#c36254"/><rect x="437.5" y="315.0" width="10.0" height="2.2" fill="#f3a79c"/><rect x="432.9" y="317.5" width="10.0" height="20.0" fill="#ee7867"/><rect x="439.9" y="317.5" width="3.0" height="20.0" fill="#c36254"/><rect x="432.9" y="317.5" width="10.0" height="2.2" fill="#f3a79c"/><rect x="428.7" y="320.6" width="10.0" height="20.0" fill="#ee7867"/><rect x="435.7" y="320.6" width="3.0" height="20.0" fill="#c36254"/><rect x="428.7" y="320.6" width="10.0" height="2.2" fill="#f3a79c"/><rect x="424.5" y="323.8" width="10.0" height="20.0" fill="#ee7867"/><rect x="431.5" y="323.8" width="3.0" height="20.0" fill="#c36254"/><rect x="424.5" y="323.8" width="10.0" height="2.2" fill="#f3a79c"/><rect x="420.2" y="326.9" width="10.0" height="20.0" fill="#ee7867"/><rect x="427.2" y="326.9" width="3.0" height="20.0" fill="#c36254"/><rect x="420.2" y="326.9" width="10.0" height="2.2" fill="#f3a79c"/><rect x="416.0" y="330.0" width="10.0" height="20.0" fill="#ee7867"/><rect x="423.0" y="330.0" width="3.0" height="20.0" fill="#c36254"/><rect x="416.0" y="330.0" width="10.0" height="2.2" fill="#f3a79c"/><rect x="412.0" y="337.0" width="14.0" height="16.0" fill="#ea6e5e"/><rect x="421.8" y="337.0" width="4.2" height="16.0" fill="#bf5a4d"/><rect x="412.0" y="337.0" width="14.0" height="1.9" fill="#f1a096"/><rect x="412.2" y="340.5" width="14.0" height="16.0" fill="#ea6e5e"/><rect x="422.0" y="340.5" width="4.2" height="16.0" fill="#bf5a4d"/><rect x="412.2" y="340.5" width="14.0" height="1.9" fill="#f1a096"/><rect x="412.4" y="344.1" width="14.0" height="16.0" fill="#ea6e5e"/><rect x="422.2" y="344.1" width="4.2" height="16.0" fill="#bf5a4d"/><rect x="412.4" y="344.1" width="14.0" height="1.9" fill="#f1a096"/><rect x="412.6" y="347.6" width="14.0" height="16.0" fill="#ea6e5e"/><rect x="422.4" y="347.6" width="4.2" height="16.0" fill="#bf5a4d"/><rect x="412.6" y="347.6" width="14.0" height="1.9" fill="#f1a096"/><rect x="412.8" y="351.1" width="14.0" height="16.0" fill="#ea6e5e"/><rect x="422.6" y="351.1" width="4.2" height="16.0" fill="#bf5a4d"/><rect x="412.8" y="351.1" width="14.0" height="1.9" fill="#f1a096"/><rect x="413.5" y="354.5" width="14.0" height="16.0" fill="#ea6e5e"/><rect x="423.3" y="354.5" width="4.2" height="16.0" fill="#bf5a4d"/><rect x="413.5" y="354.5" width="14.0" height="1.9" fill="#f1a096"/><rect x="416.0" y="357.0" width="14.0" height="16.0" fill="#ea6e5e"/><rect x="425.8" y="357.0" width="4.2" height="16.0" fill="#bf5a4d"/><rect x="416.0" y="357.0" width="14.0" height="1.9" fill="#f1a096"/><rect x="418.5" y="359.5" width="14.0" height="16.0" fill="#ea6e5e"/><rect x="428.3" y="359.5" width="4.2" height="16.0" fill="#bf5a4d"/><rect x="418.5" y="359.5" width="14.0" height="1.9" fill="#f1a096"/><rect x="421.0" y="362.0" width="14.0" height="16.0" fill="#ea6e5e"/><rect x="430.8" y="362.0" width="4.2" height="16.0" fill="#bf5a4d"/><rect x="421.0" y="362.0" width="14.0" height="1.9" fill="#f1a096"/><rect x="430.5" y="361.5" width="7.0" height="23.0" fill="#f2b4ae"/><rect x="435.4" y="361.5" width="2.1" height="23.0" fill="#c6938e"/><rect x="430.5" y="361.5" width="7.0" height="2.2" fill="#f6ceca"/><rect x="439.1" y="363.1" width="7.0" height="23.0" fill="#f2b4ae"/><rect x="444.0" y="363.1" width="2.1" height="23.0" fill="#c6938e"/><rect x="439.1" y="363.1" width="7.0" height="2.2" fill="#f6ceca"/><rect x="447.7" y="364.8" width="7.0" height="23.0" fill="#f2b4ae"/><rect x="452.6" y="364.8" width="2.1" height="23.0" fill="#c6938e"/><rect x="447.7" y="364.8" width="7.0" height="2.2" fill="#f6ceca"/><rect x="456.3" y="366.4" width="7.0" height="23.0" fill="#f2b4ae"/><rect x="461.2" y="366.4" width="2.1" height="23.0" fill="#c6938e"/><rect x="456.3" y="366.4" width="7.0" height="2.2" fill="#f6ceca"/><rect x="464.9" y="367.9" width="7.0" height="23.0" fill="#f2b4ae"/><rect x="469.8" y="367.9" width="2.1" height="23.0" fill="#c6938e"/><rect x="464.9" y="367.9" width="7.0" height="2.2" fill="#f6ceca"/><rect x="473.5" y="369.5" width="7.0" height="23.0" fill="#f2b4ae"/><rect x="478.4" y="369.5" width="2.1" height="23.0" fill="#c6938e"/><rect x="473.5" y="369.5" width="7.0" height="2.2" fill="#f6ceca"/><rect x="538.0" y="239.5" width="6.0" height="21.0" fill="#d0e8e8"/><rect x="542.2" y="239.5" width="1.8" height="21.0" fill="#aabebe"/><rect x="538.0" y="239.5" width="6.0" height="2.2" fill="#e0f0f0"/><rect x="547.8" y="239.5" width="6.0" height="21.0" fill="#d0e8e8"/><rect x="552.0" y="239.5" width="1.8" height="21.0" fill="#aabebe"/><rect x="547.8" y="239.5" width="6.0" height="2.2" fill="#e0f0f0"/><rect x="557.5" y="239.5" width="6.0" height="21.0" fill="#d0e8e8"/><rect x="561.7" y="239.5" width="1.8" height="21.0" fill="#aabebe"/><rect x="557.5" y="239.5" width="6.0" height="2.2" fill="#e0f0f0"/><rect x="567.2" y="239.5" width="6.0" height="21.0" fill="#d0e8e8"/><rect x="571.5" y="239.5" width="1.8" height="21.0" fill="#aabebe"/><rect x="567.2" y="239.5" width="6.0" height="2.2" fill="#e0f0f0"/><rect x="577.0" y="239.5" width="6.0" height="21.0" fill="#d0e8e8"/><rect x="581.2" y="239.5" width="1.8" height="21.0" fill="#aabebe"/><rect x="577.0" y="239.5" width="6.0" height="2.2" fill="#e0f0f0"/><rect x="583.0" y="239.5" width="6.0" height="21.0" fill="#7c3655"/><rect x="587.2" y="239.5" width="1.8" height="21.0" fill="#652c45"/><rect x="583.0" y="239.5" width="6.0" height="2.2" fill="#a97c90"/><rect x="592.0" y="239.5" width="6.0" height="21.0" fill="#7c3655"/><rect x="596.2" y="239.5" width="1.8" height="21.0" fill="#652c45"/><rect x="592.0" y="239.5" width="6.0" height="2.2" fill="#a97c90"/><rect x="601.0" y="239.5" width="6.0" height="21.0" fill="#7c3655"/><rect x="605.2" y="239.5" width="1.8" height="21.0" fill="#652c45"/><rect x="601.0" y="239.5" width="6.0" height="2.2" fill="#a97c90"/><rect x="610.0" y="239.5" width="6.0" height="21.0" fill="#7c3655"/><rect x="614.2" y="239.5" width="1.8" height="21.0" fill="#652c45"/><rect x="610.0" y="239.5" width="6.0" height="2.2" fill="#a97c90"/><rect x="619.0" y="239.5" width="6.0" height="21.0" fill="#7c3655"/><rect x="623.2" y="239.5" width="1.8" height="21.0" fill="#652c45"/><rect x="619.0" y="239.5" width="6.0" height="2.2" fill="#a97c90"/><rect x="628.0" y="239.5" width="6.0" height="21.0" fill="#7c3655"/><rect x="632.2" y="239.5" width="1.8" height="21.0" fill="#652c45"/><rect x="628.0" y="239.5" width="6.0" height="2.2" fill="#a97c90"/><rect x="637.0" y="239.5" width="6.0" height="21.0" fill="#7c3655"/><rect x="641.2" y="239.5" width="1.8" height="21.0" fill="#652c45"/><rect x="637.0" y="239.5" width="6.0" height="2.2" fill="#a97c90"/><rect x="646.0" y="239.5" width="6.0" height="21.0" fill="#7c3655"/><rect x="650.2" y="239.5" width="1.8" height="21.0" fill="#652c45"/><rect x="646.0" y="239.5" width="6.0" height="2.2" fill="#a97c90"/><rect x="655.0" y="239.5" width="6.0" height="21.0" fill="#7c3655"/><rect x="659.2" y="239.5" width="1.8" height="21.0" fill="#652c45"/><rect x="655.0" y="239.5" width="6.0" height="2.2" fill="#a97c90"/><rect x="664.0" y="239.5" width="6.0" height="21.0" fill="#7c3655"/><rect x="668.2" y="239.5" width="1.8" height="21.0" fill="#652c45"/><rect x="664.0" y="239.5" width="6.0" height="2.2" fill="#a97c90"/><rect x="673.0" y="239.5" width="6.0" height="21.0" fill="#7c3655"/><rect x="677.2" y="239.5" width="1.8" height="21.0" fill="#652c45"/><rect x="673.0" y="239.5" width="6.0" height="2.2" fill="#a97c90"/><rect x="538.0" y="265.0" width="6.0" height="26.0" fill="#2e6068"/><rect x="542.2" y="265.0" width="1.8" height="26.0" fill="#254e55"/><rect x="538.0" y="265.0" width="6.0" height="2.2" fill="#77979c"/><rect x="547.8" y="265.0" width="6.0" height="26.0" fill="#2e6068"/><rect x="552.0" y="265.0" width="1.8" height="26.0" fill="#254e55"/><rect x="547.8" y="265.0" width="6.0" height="2.2" fill="#77979c"/><rect x="557.5" y="265.0" width="6.0" height="26.0" fill="#2e6068"/><rect x="561.7" y="265.0" width="1.8" height="26.0" fill="#254e55"/><rect x="557.5" y="265.0" width="6.0" height="2.2" fill="#77979c"/><rect x="567.2" y="265.0" width="6.0" height="26.0" fill="#2e6068"/><rect x="571.5" y="265.0" width="1.8" height="26.0" fill="#254e55"/><rect x="567.2" y="265.0" width="6.0" height="2.2" fill="#77979c"/><rect x="577.0" y="265.0" width="6.0" height="26.0" fill="#2e6068"/><rect x="581.2" y="265.0" width="1.8" height="26.0" fill="#254e55"/><rect x="577.0" y="265.0" width="6.0" height="2.2" fill="#77979c"/><rect x="582.5" y="265.0" width="7.0" height="26.0" fill="#e8695e"/><rect x="587.4" y="265.0" width="2.1" height="26.0" fill="#be564d"/><rect x="582.5" y="265.0" width="7.0" height="2.2" fill="#f09d96"/><rect x="591.5" y="265.0" width="7.0" height="26.0" fill="#e8695e"/><rect x="596.4" y="265.0" width="2.1" height="26.0" fill="#be564d"/><rect x="591.5" y="265.0" width="7.0" height="2.2" fill="#f09d96"/><rect x="600.5" y="265.0" width="7.0" height="26.0" fill="#e8695e"/><rect x="605.4" y="265.0" width="2.1" height="26.0" fill="#be564d"/><rect x="600.5" y="265.0" width="7.0" height="2.2" fill="#f09d96"/><rect x="609.5" y="265.0" width="7.0" height="26.0" fill="#e8695e"/><rect x="614.4" y="265.0" width="2.1" height="26.0" fill="#be564d"/><rect x="609.5" y="265.0" width="7.0" height="2.2" fill="#f09d96"/><rect x="618.5" y="265.0" width="7.0" height="26.0" fill="#e8695e"/><rect x="623.4" y="265.0" width="2.1" height="26.0" fill="#be564d"/><rect x="618.5" y="265.0" width="7.0" height="2.2" fill="#f09d96"/><rect x="627.5" y="265.0" width="7.0" height="26.0" fill="#e8695e"/><rect x="632.4" y="265.0" width="2.1" height="26.0" fill="#be564d"/><rect x="627.5" y="265.0" width="7.0" height="2.2" fill="#f09d96"/><rect x="636.5" y="265.0" width="7.0" height="26.0" fill="#e8695e"/><rect x="641.4" y="265.0" width="2.1" height="26.0" fill="#be564d"/><rect x="636.5" y="265.0" width="7.0" height="2.2" fill="#f09d96"/><rect x="645.5" y="265.0" width="7.0" height="26.0" fill="#e8695e"/><rect x="650.4" y="265.0" width="2.1" height="26.0" fill="#be564d"/><rect x="645.5" y="265.0" width="7.0" height="2.2" fill="#f09d96"/><rect x="654.5" y="265.0" width="7.0" height="26.0" fill="#e8695e"/><rect x="659.4" y="265.0" width="2.1" height="26.0" fill="#be564d"/><rect x="654.5" y="265.0" width="7.0" height="2.2" fill="#f09d96"/><rect x="663.5" y="265.0" width="7.0" height="26.0" fill="#e8695e"/><rect x="668.4" y="265.0" width="2.1" height="26.0" fill="#be564d"/><rect x="663.5" y="265.0" width="7.0" height="2.2" fill="#f09d96"/><rect x="672.5" y="265.0" width="7.0" height="26.0" fill="#e8695e"/><rect x="677.4" y="265.0" width="2.1" height="26.0" fill="#be564d"/><rect x="672.5" y="265.0" width="7.0" height="2.2" fill="#f09d96"/><rect x="538.0" y="288.5" width="6.0" height="21.0" fill="#a8c152"/><rect x="542.2" y="288.5" width="1.8" height="21.0" fill="#899e43"/><rect x="538.0" y="288.5" width="6.0" height="2.2" fill="#c6d68e"/><rect x="547.2" y="288.5" width="6.0" height="21.0" fill="#a8c152"/><rect x="551.5" y="288.5" width="1.8" height="21.0" fill="#899e43"/><rect x="547.2" y="288.5" width="6.0" height="2.2" fill="#c6d68e"/><rect x="556.5" y="288.5" width="6.0" height="21.0" fill="#a8c152"/><rect x="560.7" y="288.5" width="1.8" height="21.0" fill="#899e43"/><rect x="556.5" y="288.5" width="6.0" height="2.2" fill="#c6d68e"/><rect x="565.8" y="288.5" width="6.0" height="21.0" fill="#a8c152"/><rect x="570.0" y="288.5" width="1.8" height="21.0" fill="#899e43"/><rect x="565.8" y="288.5" width="6.0" height="2.2" fill="#c6d68e"/><rect x="575.0" y="288.5" width="6.0" height="21.0" fill="#a8c152"/><rect x="579.2" y="288.5" width="1.8" height="21.0" fill="#899e43"/><rect x="575.0" y="288.5" width="6.0" height="2.2" fill="#c6d68e"/><rect x="580.0" y="290.0" width="8.0" height="20.0" fill="#43636f"/><rect x="585.6" y="290.0" width="2.4" height="20.0" fill="#36515b"/><rect x="580.0" y="290.0" width="8.0" height="2.2" fill="#8499a1"/><rect x="584.9" y="290.9" width="8.0" height="20.0" fill="#43636f"/><rect x="590.5" y="290.9" width="2.4" height="20.0" fill="#36515b"/><rect x="584.9" y="290.9" width="8.0" height="2.2" fill="#8499a1"/><rect x="589.7" y="291.8" width="8.0" height="20.0" fill="#43636f"/><rect x="595.3" y="291.8" width="2.4" height="20.0" fill="#36515b"/><rect x="589.7" y="291.8" width="8.0" height="2.2" fill="#8499a1"/><rect x="594.6" y="292.7" width="8.0" height="20.0" fill="#43636f"/><rect x="600.2" y="292.7" width="2.4" height="20.0" fill="#36515b"/><rect x="594.6" y="292.7" width="8.0" height="2.2" fill="#8499a1"/><rect x="599.0" y="294.8" width="8.0" height="20.0" fill="#43636f"/><rect x="604.6" y="294.8" width="2.4" height="20.0" fill="#36515b"/><rect x="599.0" y="294.8" width="8.0" height="2.2" fill="#8499a1"/><rect x="603.2" y="297.3" width="8.0" height="20.0" fill="#43636f"/><rect x="608.8" y="297.3" width="2.4" height="20.0" fill="#36515b"/><rect x="603.2" y="297.3" width="8.0" height="2.2" fill="#8499a1"/><rect x="607.5" y="299.9" width="8.0" height="20.0" fill="#43636f"/><rect x="613.1" y="299.9" width="2.4" height="20.0" fill="#36515b"/><rect x="607.5" y="299.9" width="8.0" height="2.2" fill="#8499a1"/><rect x="611.5" y="302.7" width="8.0" height="20.0" fill="#43636f"/><rect x="617.1" y="302.7" width="2.4" height="20.0" fill="#36515b"/><rect x="611.5" y="302.7" width="8.0" height="2.2" fill="#8499a1"/><rect x="614.6" y="306.5" width="8.0" height="20.0" fill="#43636f"/><rect x="620.2" y="306.5" width="2.4" height="20.0" fill="#36515b"/><rect x="614.6" y="306.5" width="8.0" height="2.2" fill="#8499a1"/><rect x="617.8" y="310.3" width="8.0" height="20.0" fill="#43636f"/><rect x="623.4" y="310.3" width="2.4" height="20.0" fill="#36515b"/><rect x="617.8" y="310.3" width="8.0" height="2.2" fill="#8499a1"/><rect x="620.9" y="314.2" width="8.0" height="20.0" fill="#43636f"/><rect x="626.5" y="314.2" width="2.4" height="20.0" fill="#36515b"/><rect x="620.9" y="314.2" width="8.0" height="2.2" fill="#8499a1"/><rect x="624.0" y="318.0" width="8.0" height="20.0" fill="#43636f"/><rect x="629.6" y="318.0" width="2.4" height="20.0" fill="#36515b"/><rect x="624.0" y="318.0" width="8.0" height="2.2" fill="#8499a1"/><rect x="628.5" y="325.0" width="7.0" height="22.0" fill="#b8dfde"/><rect x="633.4" y="325.0" width="2.1" height="22.0" fill="#96b6b6"/><rect x="628.5" y="325.0" width="7.0" height="2.2" fill="#d0eae9"/><rect x="634.0" y="329.3" width="7.0" height="22.0" fill="#b8dfde"/><rect x="638.9" y="329.3" width="2.1" height="22.0" fill="#96b6b6"/><rect x="634.0" y="329.3" width="7.0" height="2.2" fill="#d0eae9"/><rect x="639.5" y="333.5" width="7.0" height="22.0" fill="#b8dfde"/><rect x="644.4" y="333.5" width="2.1" height="22.0" fill="#96b6b6"/><rect x="639.5" y="333.5" width="7.0" height="2.2" fill="#d0eae9"/><rect x="645.0" y="337.8" width="7.0" height="22.0" fill="#b8dfde"/><rect x="649.9" y="337.8" width="2.1" height="22.0" fill="#96b6b6"/><rect x="645.0" y="337.8" width="7.0" height="2.2" fill="#d0eae9"/><rect x="651.3" y="340.6" width="7.0" height="22.0" fill="#b8dfde"/><rect x="656.2" y="340.6" width="2.1" height="22.0" fill="#96b6b6"/><rect x="651.3" y="340.6" width="7.0" height="2.2" fill="#d0eae9"/><rect x="657.9" y="342.8" width="7.0" height="22.0" fill="#b8dfde"/><rect x="662.8" y="342.8" width="2.1" height="22.0" fill="#96b6b6"/><rect x="657.9" y="342.8" width="7.0" height="2.2" fill="#d0eae9"/><rect x="664.5" y="345.0" width="7.0" height="22.0" fill="#b8dfde"/><rect x="669.4" y="345.0" width="2.1" height="22.0" fill="#96b6b6"/><rect x="664.5" y="345.0" width="7.0" height="2.2" fill="#d0eae9"/><rect x="713.5" y="244.0" width="7.0" height="24.0" fill="#ea7363"/><rect x="718.4" y="244.0" width="2.1" height="24.0" fill="#bf5e51"/><rect x="713.5" y="244.0" width="7.0" height="2.2" fill="#f1a499"/><rect x="722.0" y="245.3" width="7.0" height="24.0" fill="#ea7363"/><rect x="726.9" y="245.3" width="2.1" height="24.0" fill="#bf5e51"/><rect x="722.0" y="245.3" width="7.0" height="2.2" fill="#f1a499"/><rect x="730.5" y="246.7" width="7.0" height="24.0" fill="#ea7363"/><rect x="735.4" y="246.7" width="2.1" height="24.0" fill="#bf5e51"/><rect x="730.5" y="246.7" width="7.0" height="2.2" fill="#f1a499"/><rect x="739.0" y="248.0" width="7.0" height="24.0" fill="#ea7363"/><rect x="743.9" y="248.0" width="2.1" height="24.0" fill="#bf5e51"/><rect x="739.0" y="248.0" width="7.0" height="2.2" fill="#f1a499"/><rect x="747.5" y="249.3" width="7.0" height="24.0" fill="#ea7363"/><rect x="752.4" y="249.3" width="2.1" height="24.0" fill="#bf5e51"/><rect x="747.5" y="249.3" width="7.0" height="2.2" fill="#f1a499"/><rect x="756.0" y="250.7" width="7.0" height="24.0" fill="#ea7363"/><rect x="760.9" y="250.7" width="2.1" height="24.0" fill="#bf5e51"/><rect x="756.0" y="250.7" width="7.0" height="2.2" fill="#f1a499"/><rect x="764.5" y="252.0" width="7.0" height="24.0" fill="#ea7363"/><rect x="769.4" y="252.0" width="2.1" height="24.0" fill="#bf5e51"/><rect x="764.5" y="252.0" width="7.0" height="2.2" fill="#f1a499"/><rect x="769.0" y="253.0" width="6.0" height="24.0" fill="#f4c4bc"/><rect x="773.2" y="253.0" width="1.8" height="24.0" fill="#c8a09a"/><rect x="769.0" y="253.0" width="6.0" height="2.2" fill="#f7d8d3"/><rect x="777.5" y="254.5" width="6.0" height="24.0" fill="#f4c4bc"/><rect x="781.7" y="254.5" width="1.8" height="24.0" fill="#c8a09a"/><rect x="777.5" y="254.5" width="6.0" height="2.2" fill="#f7d8d3"/><rect x="786.0" y="256.0" width="6.0" height="24.0" fill="#f4c4bc"/><rect x="790.2" y="256.0" width="1.8" height="24.0" fill="#c8a09a"/><rect x="786.0" y="256.0" width="6.0" height="2.2" fill="#f7d8d3"/><rect x="710.5" y="282.5" width="7.0" height="21.0" fill="#a6c252"/><rect x="715.4" y="282.5" width="2.1" height="21.0" fill="#889f43"/><rect x="710.5" y="282.5" width="7.0" height="2.2" fill="#c5d78e"/><rect x="718.5" y="284.2" width="7.0" height="21.0" fill="#a6c252"/><rect x="723.4" y="284.2" width="2.1" height="21.0" fill="#889f43"/><rect x="718.5" y="284.2" width="7.0" height="2.2" fill="#c5d78e"/><rect x="726.5" y="286.0" width="7.0" height="21.0" fill="#a6c252"/><rect x="731.4" y="286.0" width="2.1" height="21.0" fill="#889f43"/><rect x="726.5" y="286.0" width="7.0" height="2.2" fill="#c5d78e"/><rect x="734.5" y="287.8" width="7.0" height="21.0" fill="#a6c252"/><rect x="739.4" y="287.8" width="2.1" height="21.0" fill="#889f43"/><rect x="734.5" y="287.8" width="7.0" height="2.2" fill="#c5d78e"/><rect x="742.5" y="289.5" width="7.0" height="21.0" fill="#a6c252"/><rect x="747.4" y="289.5" width="2.1" height="21.0" fill="#889f43"/><rect x="742.5" y="289.5" width="7.0" height="2.2" fill="#c5d78e"/><rect x="744.0" y="293.0" width="10.0" height="20.0" fill="#ea7363"/><rect x="751.0" y="293.0" width="3.0" height="20.0" fill="#bf5e51"/><rect x="744.0" y="293.0" width="10.0" height="2.2" fill="#f1a499"/><rect x="747.0" y="296.2" width="10.0" height="20.0" fill="#ea7363"/><rect x="754.0" y="296.2" width="3.0" height="20.0" fill="#bf5e51"/><rect x="747.0" y="296.2" width="10.0" height="2.2" fill="#f1a499"/><rect x="749.9" y="299.5" width="10.0" height="20.0" fill="#ea7363"/><rect x="756.9" y="299.5" width="3.0" height="20.0" fill="#bf5e51"/><rect x="749.9" y="299.5" width="10.0" height="2.2" fill="#f1a499"/><rect x="752.9" y="302.7" width="10.0" height="20.0" fill="#ea7363"/><rect x="759.9" y="302.7" width="3.0" height="20.0" fill="#bf5e51"/><rect x="752.9" y="302.7" width="10.0" height="2.2" fill="#f1a499"/><rect x="755.2" y="306.3" width="10.0" height="20.0" fill="#ea7363"/><rect x="762.2" y="306.3" width="3.0" height="20.0" fill="#bf5e51"/><rect x="755.2" y="306.3" width="10.0" height="2.2" fill="#f1a499"/><rect x="755.8" y="310.6" width="10.0" height="20.0" fill="#ea7363"/><rect x="762.8" y="310.6" width="3.0" height="20.0" fill="#bf5e51"/><rect x="755.8" y="310.6" width="10.0" height="2.2" fill="#f1a499"/><rect x="756.3" y="315.0" width="10.0" height="20.0" fill="#ea7363"/><rect x="763.3" y="315.0" width="3.0" height="20.0" fill="#bf5e51"/><rect x="756.3" y="315.0" width="10.0" height="2.2" fill="#f1a499"/><rect x="756.9" y="319.3" width="10.0" height="20.0" fill="#ea7363"/><rect x="763.9" y="319.3" width="3.0" height="20.0" fill="#bf5e51"/><rect x="756.9" y="319.3" width="10.0" height="2.2" fill="#f1a499"/><rect x="755.6" y="323.5" width="10.0" height="20.0" fill="#ea7363"/><rect x="762.6" y="323.5" width="3.0" height="20.0" fill="#bf5e51"/><rect x="755.6" y="323.5" width="10.0" height="2.2" fill="#f1a499"/><rect x="754.0" y="327.5" width="10.0" height="20.0" fill="#ea7363"/><rect x="761.0" y="327.5" width="3.0" height="20.0" fill="#bf5e51"/><rect x="754.0" y="327.5" width="10.0" height="2.2" fill="#f1a499"/><rect x="752.4" y="331.6" width="10.0" height="20.0" fill="#ea7363"/><rect x="759.4" y="331.6" width="3.0" height="20.0" fill="#bf5e51"/><rect x="752.4" y="331.6" width="10.0" height="2.2" fill="#f1a499"/><rect x="750.3" y="335.3" width="10.0" height="20.0" fill="#ea7363"/><rect x="757.3" y="335.3" width="3.0" height="20.0" fill="#bf5e51"/><rect x="750.3" y="335.3" width="10.0" height="2.2" fill="#f1a499"/><rect x="746.3" y="337.1" width="10.0" height="20.0" fill="#ea7363"/><rect x="753.3" y="337.1" width="3.0" height="20.0" fill="#bf5e51"/><rect x="746.3" y="337.1" width="10.0" height="2.2" fill="#f1a499"/><rect x="742.3" y="338.8" width="10.0" height="20.0" fill="#ea7363"/><rect x="749.3" y="338.8" width="3.0" height="20.0" fill="#bf5e51"/><rect x="742.3" y="338.8" width="10.0" height="2.2" fill="#f1a499"/><rect x="738.2" y="340.6" width="10.0" height="20.0" fill="#ea7363"/><rect x="745.2" y="340.6" width="3.0" height="20.0" fill="#bf5e51"/><rect x="738.2" y="340.6" width="10.0" height="2.2" fill="#f1a499"/><rect x="734.2" y="342.2" width="10.0" height="20.0" fill="#ea7363"/><rect x="741.2" y="342.2" width="3.0" height="20.0" fill="#bf5e51"/><rect x="734.2" y="342.2" width="10.0" height="2.2" fill="#f1a499"/><rect x="729.9" y="343.1" width="10.0" height="20.0" fill="#ea7363"/><rect x="736.9" y="343.1" width="3.0" height="20.0" fill="#bf5e51"/><rect x="729.9" y="343.1" width="10.0" height="2.2" fill="#f1a499"/><rect x="725.6" y="344.1" width="10.0" height="20.0" fill="#ea7363"/><rect x="732.6" y="344.1" width="3.0" height="20.0" fill="#bf5e51"/><rect x="725.6" y="344.1" width="10.0" height="2.2" fill="#f1a499"/><rect x="721.3" y="345.0" width="10.0" height="20.0" fill="#ea7363"/><rect x="728.3" y="345.0" width="3.0" height="20.0" fill="#bf5e51"/><rect x="721.3" y="345.0" width="10.0" height="2.2" fill="#f1a499"/><rect x="717.0" y="346.0" width="10.0" height="20.0" fill="#ea7363"/><rect x="724.0" y="346.0" width="3.0" height="20.0" fill="#bf5e51"/><rect x="717.0" y="346.0" width="10.0" height="2.2" fill="#f1a499"/><rect x="713.0" y="343.0" width="6.0" height="24.0" fill="#b8dfde"/><rect x="717.2" y="343.0" width="1.8" height="24.0" fill="#96b6b6"/><rect x="713.0" y="343.0" width="6.0" height="2.2" fill="#d0eae9"/><rect x="742.5" y="415.0" width="7.0" height="30.0" fill="#acdcd7"/><rect x="747.4" y="415.0" width="2.1" height="30.0" fill="#8db4b0"/><rect x="742.5" y="415.0" width="7.0" height="2.2" fill="#c9e8e5"/><rect x="750.1" y="411.8" width="7.0" height="30.0" fill="#acdcd7"/><rect x="755.0" y="411.8" width="2.1" height="30.0" fill="#8db4b0"/><rect x="750.1" y="411.8" width="7.0" height="2.2" fill="#c9e8e5"/><rect x="757.7" y="408.6" width="7.0" height="30.0" fill="#acdcd7"/><rect x="762.6" y="408.6" width="2.1" height="30.0" fill="#8db4b0"/><rect x="757.7" y="408.6" width="7.0" height="2.2" fill="#c9e8e5"/><rect x="765.3" y="405.4" width="7.0" height="30.0" fill="#acdcd7"/><rect x="770.2" y="405.4" width="2.1" height="30.0" fill="#8db4b0"/><rect x="765.3" y="405.4" width="7.0" height="2.2" fill="#c9e8e5"/><rect x="772.9" y="402.2" width="7.0" height="30.0" fill="#acdcd7"/><rect x="777.8" y="402.2" width="2.1" height="30.0" fill="#8db4b0"/><rect x="772.9" y="402.2" width="7.0" height="2.2" fill="#c9e8e5"/><rect x="780.5" y="399.0" width="7.0" height="30.0" fill="#acdcd7"/><rect x="785.4" y="399.0" width="2.1" height="30.0" fill="#8db4b0"/><rect x="780.5" y="399.0" width="7.0" height="2.2" fill="#c9e8e5"/>
<clipPath id="stk513_213"><rect x="513.0" y="213.0" width="8.0" height="47.0" rx="4.0"/></clipPath><g clip-path="url(#stk513_213)"><rect x="513.0" y="213.0" width="8.0" height="3.7" fill="#f3ede2"/><rect x="513.0" y="216.5" width="8.0" height="3.7" fill="#93546a"/><rect x="513.0" y="220.0" width="8.0" height="3.7" fill="#b4cc68"/><rect x="513.0" y="223.5" width="8.0" height="3.7" fill="#a8606e"/><rect x="513.0" y="227.0" width="8.0" height="3.7" fill="#f8f3ea"/><rect x="513.0" y="230.5" width="8.0" height="3.7" fill="#5f7f8c"/><rect x="513.0" y="234.0" width="8.0" height="3.7" fill="#ec8272"/><rect x="513.0" y="237.5" width="8.0" height="3.7" fill="#6a8a7a"/><rect x="513.0" y="241.0" width="8.0" height="3.7" fill="#bfe3df"/><rect x="513.0" y="244.5" width="8.0" height="3.7" fill="#f4c0b8"/><rect x="513.0" y="248.0" width="8.0" height="3.7" fill="#f3ede2"/><rect x="513.0" y="251.5" width="8.0" height="3.7" fill="#93546a"/><rect x="513.0" y="255.0" width="8.0" height="3.7" fill="#b4cc68"/><rect x="513.0" y="258.5" width="8.0" height="3.7" fill="#a8606e"/><rect x="513.0" y="213.0" width="2.8" height="47.0" fill="#ffffff" opacity="0.15"/></g>
<clipPath id="stk514_273"><rect x="514.0" y="273.0" width="8.0" height="44.0" rx="4.0"/></clipPath><g clip-path="url(#stk514_273)"><rect x="514.0" y="273.0" width="8.0" height="3.7" fill="#f4c0b8"/><rect x="514.0" y="276.5" width="8.0" height="3.7" fill="#f3ede2"/><rect x="514.0" y="280.0" width="8.0" height="3.7" fill="#93546a"/><rect x="514.0" y="283.5" width="8.0" height="3.7" fill="#b4cc68"/><rect x="514.0" y="287.0" width="8.0" height="3.7" fill="#a8606e"/><rect x="514.0" y="290.5" width="8.0" height="3.7" fill="#f8f3ea"/><rect x="514.0" y="294.0" width="8.0" height="3.7" fill="#5f7f8c"/><rect x="514.0" y="297.5" width="8.0" height="3.7" fill="#ec8272"/><rect x="514.0" y="301.0" width="8.0" height="3.7" fill="#6a8a7a"/><rect x="514.0" y="304.5" width="8.0" height="3.7" fill="#bfe3df"/><rect x="514.0" y="308.0" width="8.0" height="3.7" fill="#f4c0b8"/><rect x="514.0" y="311.5" width="8.0" height="3.7" fill="#f3ede2"/><rect x="514.0" y="315.0" width="8.0" height="3.7" fill="#93546a"/><rect x="514.0" y="273.0" width="2.8" height="44.0" fill="#ffffff" opacity="0.15"/></g>
<clipPath id="stk701_196"><rect x="701.0" y="196.0" width="10.0" height="54.0" rx="5.0"/></clipPath><g clip-path="url(#stk701_196)"><rect x="701.0" y="196.0" width="10.0" height="3.7" fill="#a8606e"/><rect x="701.0" y="199.5" width="10.0" height="3.7" fill="#f8f3ea"/><rect x="701.0" y="203.0" width="10.0" height="3.7" fill="#5f7f8c"/><rect x="701.0" y="206.5" width="10.0" height="3.7" fill="#ec8272"/><rect x="701.0" y="210.0" width="10.0" height="3.7" fill="#6a8a7a"/><rect x="701.0" y="213.5" width="10.0" height="3.7" fill="#bfe3df"/><rect x="701.0" y="217.0" width="10.0" height="3.7" fill="#f4c0b8"/><rect x="701.0" y="220.5" width="10.0" height="3.7" fill="#f3ede2"/><rect x="701.0" y="224.0" width="10.0" height="3.7" fill="#93546a"/><rect x="701.0" y="227.5" width="10.0" height="3.7" fill="#b4cc68"/><rect x="701.0" y="231.0" width="10.0" height="3.7" fill="#a8606e"/><rect x="701.0" y="234.5" width="10.0" height="3.7" fill="#f8f3ea"/><rect x="701.0" y="238.0" width="10.0" height="3.7" fill="#5f7f8c"/><rect x="701.0" y="241.5" width="10.0" height="3.7" fill="#ec8272"/><rect x="701.0" y="245.0" width="10.0" height="3.7" fill="#6a8a7a"/><rect x="701.0" y="248.5" width="10.0" height="3.7" fill="#bfe3df"/><rect x="701.0" y="196.0" width="3.5" height="54.0" fill="#ffffff" opacity="0.15"/></g>
<clipPath id="stk699_267"><rect x="699.0" y="267.0" width="9.0" height="52.0" rx="4.5"/></clipPath><g clip-path="url(#stk699_267)"><rect x="699.0" y="267.0" width="9.0" height="3.7" fill="#b4cc68"/><rect x="699.0" y="270.5" width="9.0" height="3.7" fill="#a8606e"/><rect x="699.0" y="274.0" width="9.0" height="3.7" fill="#f8f3ea"/><rect x="699.0" y="277.5" width="9.0" height="3.7" fill="#5f7f8c"/><rect x="699.0" y="281.0" width="9.0" height="3.7" fill="#ec8272"/><rect x="699.0" y="284.5" width="9.0" height="3.7" fill="#6a8a7a"/><rect x="699.0" y="288.0" width="9.0" height="3.7" fill="#bfe3df"/><rect x="699.0" y="291.5" width="9.0" height="3.7" fill="#f4c0b8"/><rect x="699.0" y="295.0" width="9.0" height="3.7" fill="#f3ede2"/><rect x="699.0" y="298.5" width="9.0" height="3.7" fill="#93546a"/><rect x="699.0" y="302.0" width="9.0" height="3.7" fill="#b4cc68"/><rect x="699.0" y="305.5" width="9.0" height="3.7" fill="#a8606e"/><rect x="699.0" y="309.0" width="9.0" height="3.7" fill="#f8f3ea"/><rect x="699.0" y="312.5" width="9.0" height="3.7" fill="#5f7f8c"/><rect x="699.0" y="316.0" width="9.0" height="3.7" fill="#ec8272"/><rect x="699.0" y="267.0" width="3.1" height="52.0" fill="#ffffff" opacity="0.15"/></g>
<clipPath id="stk694_335"><rect x="694.0" y="335.0" width="9.0" height="49.0" rx="4.5"/></clipPath><g clip-path="url(#stk694_335)"><rect x="694.0" y="335.0" width="9.0" height="3.7" fill="#ec8272"/><rect x="694.0" y="338.5" width="9.0" height="3.7" fill="#6a8a7a"/><rect x="694.0" y="342.0" width="9.0" height="3.7" fill="#bfe3df"/><rect x="694.0" y="345.5" width="9.0" height="3.7" fill="#f4c0b8"/><rect x="694.0" y="349.0" width="9.0" height="3.7" fill="#f3ede2"/><rect x="694.0" y="352.5" width="9.0" height="3.7" fill="#93546a"/><rect x="694.0" y="356.0" width="9.0" height="3.7" fill="#b4cc68"/><rect x="694.0" y="359.5" width="9.0" height="3.7" fill="#a8606e"/><rect x="694.0" y="363.0" width="9.0" height="3.7" fill="#f8f3ea"/><rect x="694.0" y="366.5" width="9.0" height="3.7" fill="#5f7f8c"/><rect x="694.0" y="370.0" width="9.0" height="3.7" fill="#ec8272"/><rect x="694.0" y="373.5" width="9.0" height="3.7" fill="#6a8a7a"/><rect x="694.0" y="377.0" width="9.0" height="3.7" fill="#bfe3df"/><rect x="694.0" y="380.5" width="9.0" height="3.7" fill="#f4c0b8"/><rect x="694.0" y="384.0" width="9.0" height="3.7" fill="#f3ede2"/><rect x="694.0" y="335.0" width="3.1" height="49.0" fill="#ffffff" opacity="0.15"/></g>
<g>
<path d="M477,328 Q478,322 486,322 L507,322 Q520,323 527,328 L532,326 Q545,324 552,328 L556,340 L560,398 L482,404 Q477,380 477,328 Z" fill="#f1a29a"/>
<path d="M477,328 Q478,322 486,322 L507,322 Q520,323 527,328 L531,393 L483,403 Q477,380 477,328 Z" fill="#f4aca4"/>
<path d="M480,330 L526,331 L527,336 L480,335 Z" fill="#f8c4bc"/>
<rect x="487" y="338" width="25" height="19" rx="3" fill="#cfe3e6"/>
<rect x="490" y="341" width="19" height="13" rx="2" fill="#a6c6cf"/>
<path d="M531,334 Q545,330 556,336 L560,400 L533,400 Z" fill="#ee988f"/>
<path d="M533,352 L558,350 M533,362 L558,360 M533,372 L558,370 M533,382 L558,380" stroke="#f6b4ac" stroke-width="2"/>
<rect x="550" y="331" width="9" height="13" rx="1.5" fill="#8f8688"/>
<path d="M551,354 Q562,344 578,349 Q584,360 584,380 L583,414 Q566,420 552,416 Z" fill="#a9d8d5"/>
<ellipse cx="571" cy="372" rx="8" ry="14" fill="#f3a39a"/>
<path d="M556,396 L582,392 L582,414 L556,416 Z" fill="#9fd0cd"/>
<circle cx="494" cy="385" r="17.5" fill="#5b4a4f"/><circle cx="494" cy="385" r="14.5" fill="#a2a2aa"/><circle cx="494" cy="385" r="10" fill="#8a8a92"/><circle cx="494" cy="385" r="4" fill="#6a6a72"/>
<circle cx="519" cy="402" r="9" fill="#6d6268"/><circle cx="519" cy="402" r="6" fill="#a8a8b0"/>
<circle cx="537" cy="406" r="9.5" fill="#5d5258"/><circle cx="537" cy="406" r="6.5" fill="#a8a8b0"/>
</g>
<g>
<polygon points="709,372 744,383 744,398 700,391" fill="#8fb0b8"/><polygon points="662,396 700,390 744,398 688,402" fill="#3e6a78"/>
<polygon points="686,389 744,397 745,456 690,462" fill="#58828f"/>
<rect x="707" y="404" width="30" height="18" rx="3" fill="#7fa4ae"/><circle cx="714" cy="413" r="4" fill="#3d6672"/>
<polygon points="662,394 687,388 690,462 664,464" fill="#2f5f6c"/>
<polygon points="646,420 686,414 690,476 648,480" fill="#2f6170"/>
<path d="M620,432 Q636,420 654,428 L660,500 Q640,508 622,504 Z" fill="#a4d3d3"/>
<ellipse cx="632" cy="455" rx="9" ry="16" fill="#63a0a8"/>
<rect x="647" y="404" width="12" height="16" rx="3" fill="#e8604a"/>
<ellipse cx="723" cy="451" rx="19" ry="26" fill="#264f5a"/>
<ellipse cx="723" cy="451" rx="16.5" ry="23.5" fill="#e8604a"/>
<ellipse cx="723" cy="451" rx="12.5" ry="18.5" fill="#6a3a3a"/>
<g stroke="#e8604a" stroke-width="3.2"><line x1="723" y1="451" x2="735.8" y2="454.3"/><line x1="723" y1="451" x2="727.4" y2="468.9"/><line x1="723" y1="451" x2="714.6" y2="465.6"/><line x1="723" y1="451" x2="710.2" y2="447.7"/><line x1="723" y1="451" x2="718.6" y2="433.1"/><line x1="723" y1="451" x2="731.4" y2="436.4"/></g>
<ellipse cx="723" cy="451" rx="5" ry="7" fill="#e8604a"/>
<circle cx="672" cy="487" r="9" fill="#e8604a"/><circle cx="689" cy="477" r="9" fill="#e8604a"/>
</g>
<path d="M537,476 Q535,470 540,467 Q535,460 536,450 Q536,438 540,436 Q544,438 544,448 L545,452 Q546,440 550,434 Q554,436 553,448 Q552,460 546,467 Q550,470 549,476 Q543,479 537,476 Z" fill="#b7dc8a"/>
</g>
<g filter="url(#soft2)">
<text x="0" y="0" transform="translate(194.5 273.0) rotate(-3.96)" font-family="Liberation Sans, sans-serif" font-size="40.0" font-weight="bold" fill="#1b2d50" textLength="200.0" lengthAdjust="spacingAndGlyphs" text-anchor="start" stroke="#1b2d50" stroke-width="1.3">DOMINO TRAIN</text>
<text x="0" y="0" transform="translate(195.6 287.9) rotate(-3.20)" font-family="Liberation Sans, sans-serif" font-size="9.3" fill="#5c6270" textLength="164.0" lengthAdjust="spacingAndGlyphs" text-anchor="start" >AUTOMATIC STACKING • DIRECTION ADJUSTMENT</text>
<line x1="196.5" y1="300.2" x2="317.6" y2="290.6" stroke="#8a8f98" stroke-width="0.9"/>
<text x="0" y="0" transform="translate(197.0 311.0) rotate(-4.00)" font-family="Liberation Sans, sans-serif" font-size="6.6" fill="#6d6d74" textLength="114.0" lengthAdjust="spacingAndGlyphs" text-anchor="start" >EMULATION DOMINO TRAIN TOYS</text>
<text x="0" y="0" transform="translate(197.0 319.1) rotate(-4.00)" font-family="Liberation Sans, sans-serif" font-size="6.6" fill="#6d6d74" textLength="112.0" lengthAdjust="spacingAndGlyphs" text-anchor="start" >Really simulate the train operation,</text>
<text x="0" y="0" transform="translate(197.0 327.2) rotate(-4.00)" font-family="Liberation Sans, sans-serif" font-size="6.6" fill="#6d6d74" textLength="104.0" lengthAdjust="spacingAndGlyphs" text-anchor="start" >operating with sound and music.</text>
<text x="0" y="0" transform="translate(197.0 335.3) rotate(-4.00)" font-family="Liberation Sans, sans-serif" font-size="6.6" fill="#6d6d74" textLength="93.0" lengthAdjust="spacingAndGlyphs" text-anchor="start" >Automatic laying dominoes.</text>
<text x="0" y="0" transform="translate(197.0 343.4) rotate(-4.00)" font-family="Liberation Sans, sans-serif" font-size="6.6" fill="#6d6d74" textLength="82.0" lengthAdjust="spacingAndGlyphs" text-anchor="start" >Set them up all in a row</text>
<text x="0" y="0" transform="translate(197.0 351.5) rotate(-4.00)" font-family="Liberation Sans, sans-serif" font-size="6.6" fill="#6d6d74" textLength="78.0" lengthAdjust="spacingAndGlyphs" text-anchor="start" >and then push one and</text>
<text x="0" y="0" transform="translate(197.0 359.6) rotate(-4.00)" font-family="Liberation Sans, sans-serif" font-size="6.6" fill="#6d6d74" textLength="82.0" lengthAdjust="spacingAndGlyphs" text-anchor="start" >watch the chain effect of</text>
<text x="0" y="0" transform="translate(197.0 367.7) rotate(-4.00)" font-family="Liberation Sans, sans-serif" font-size="6.6" fill="#6d6d74" textLength="75.0" lengthAdjust="spacingAndGlyphs" text-anchor="start" >the dominoes tumbling</text>
<text x="0" y="0" transform="translate(197.0 375.8) rotate(-4.00)" font-family="Liberation Sans, sans-serif" font-size="6.6" fill="#6d6d74" textLength="58.0" lengthAdjust="spacingAndGlyphs" text-anchor="start" >over like a wave.</text>
<text x="0" y="0" transform="translate(199.0 497.5) rotate(-4.50)" font-family="Liberation Sans, sans-serif" font-size="12.5" font-weight="bold" fill="#3a3a3a" textLength="68.0" lengthAdjust="spacingAndGlyphs" text-anchor="start" >3+ For Ages</text>
<circle cx="216" cy="521" r="15.5" fill="none" stroke="#a0a0a0" stroke-width="1.3"/>
<text x="216" y="546" font-family="Liberation Sans, sans-serif" font-size="5.5" fill="#8a8a8a" text-anchor="middle">light</text>
<circle cx="259" cy="517" r="15.5" fill="none" stroke="#a0a0a0" stroke-width="1.3"/>
<text x="259" y="542" font-family="Liberation Sans, sans-serif" font-size="5.5" fill="#8a8a8a" text-anchor="middle">Sound</text>
<circle cx="302" cy="513" r="15.5" fill="none" stroke="#a0a0a0" stroke-width="1.3"/>
<text x="302" y="538" font-family="Liberation Sans, sans-serif" font-size="5.5" fill="#8a8a8a" text-anchor="middle">Stacking</text>
<circle cx="346" cy="507" r="15.5" fill="none" stroke="#a0a0a0" stroke-width="1.3"/>
<text x="346" y="532" font-family="Liberation Sans, sans-serif" font-size="5.5" fill="#8a8a8a" text-anchor="middle">Direction</text>
<circle cx="215" cy="518" r="7" fill="#454545"/><path d="M210,522 L220,522 L215,531 Z" fill="#777"/>
<path d="M252,524 a3.2,2.6 0 1,0 3,-2 l0,-9 l8,-2 l0,10 a3.2,2.6 0 1,1 -2,-2 l0,-5 l-5,1.3 l0,9 Z" fill="#444"/>
<rect x="294" y="506" width="3.5" height="13" fill="#444"/><rect x="300" y="506" width="3.5" height="13" fill="#444"/><rect x="306" y="506" width="3.5" height="13" fill="#444"/>
<path d="M346,496 L341,503 L344.5,503 L344.5,508 L339,505 L339,508.5 L344.5,511.5 L344.5,517 L347.5,517 L347.5,511.5 L353,508.5 L353,505 L347.5,508 L347.5,503 L351,503 Z" fill="#444"/>
<g transform="translate(147,342) rotate(82)"><text font-family="Liberation Sans, sans-serif" font-weight="bold" font-size="10" fill="#f6d0ca" opacity="0.85" textLength="44" lengthAdjust="spacingAndGlyphs">DOMINO TRAIN</text></g>
<text x="0" y="0" transform="translate(432.0 514.0) rotate(-3.60)" font-family="Liberation Sans, sans-serif" font-size="5.5" fill="#c4c4c4" textLength="130.0" lengthAdjust="spacingAndGlyphs" text-anchor="start" >Emulation domino train toys, please read the instructions carefully before use</text>
</g>
<polyline points="112,181 123.5,515 180,587 790,518" fill="none" stroke="#777" stroke-width="1.4"/>
<circle cx="112.0" cy="181.0" r="5.8" fill="#474747"/>
<circle cx="123.5" cy="515.0" r="5.8" fill="#474747"/>
<circle cx="180.0" cy="587.0" r="5.8" fill="#474747"/>
<circle cx="790.5" cy="518.5" r="5.8" fill="#474747"/>
<text x="0" y="0" transform="translate(56.0 218.0) rotate(90.00)" font-family="Liberation Sans, sans-serif" font-size="46.0" fill="#3a3a3a" textLength="249.0" lengthAdjust="spacingAndGlyphs" text-anchor="start" >13.8cm/5.4inch</text>
<text x="0" y="0" transform="translate(113.5 574.5) rotate(52.00)" font-family="Liberation Sans, sans-serif" font-size="22.0" fill="#333" textLength="139.0" lengthAdjust="spacingAndGlyphs" text-anchor="middle" >8cm/3.2inch</text>
<text x="0" y="0" transform="translate(393.0 620.0) rotate(-6.60)" font-family="Liberation Sans, sans-serif" font-size="30.5" fill="#333" textLength="219.0" lengthAdjust="spacingAndGlyphs" text-anchor="start" >26.4cm/10.4inch</text>
<g><rect x="970.5" y="164.5" width="71.5" height="5" rx="2.5" fill="#d6d6d6" opacity="0.7" filter="url(#soft)"/><polygon points="1027.5,34.0 1039.0,31.0 1039.0,160.5 1027.5,166.5" fill="#b0eb94"/><polygon points="967.5,34.0 971.5,30.5 1039.0,31.0 1027.5,34.0" fill="#c4f5a9"/><rect x="967.5" y="34.0" width="60.0" height="132.5" fill="#a9e88d"/><rect x="973.0" y="38.0" width="48.0" height="117.0" fill="#b7f09a"/><polygon points="973.0,38.0 1021.0,38.0 1016.0,45.0 978.0,45.0" fill="#8ccc70"/><polygon points="973.0,38.0 978.0,45.0 978.0,150.0 973.0,155.0" fill="#8ccc70" opacity="0.7"/><polygon points="973.0,155.0 978.0,150.0 1016.0,150.0 1021.0,155.0" fill="#b3ec97"/><polygon points="1021.0,38.0 1016.0,45.0 1016.0,150.0 1021.0,155.0" fill="#b3ec97"/></g>
<g><rect x="949.5" y="315.0" width="72.0" height="5" rx="2.5" fill="#d6d6d6" opacity="0.7" filter="url(#soft)"/><polygon points="1007.0,185.0 1018.5,182.0 1018.5,311.0 1007.0,317.0" fill="#383f60"/><polygon points="946.5,185.0 950.5,181.5 1018.5,182.0 1007.0,185.0" fill="#8e95ae"/><rect x="946.5" y="185.0" width="60.5" height="132.0" fill="#252f5c"/><rect x="952.5" y="189.0" width="47.5" height="121.0" fill="#232a53"/><polygon points="952.5,189.0 1000.0,189.0 995.0,201.0 957.5,201.0" fill="#141a33"/><polygon points="952.5,189.0 957.5,201.0 957.5,305.0 952.5,310.0" fill="#141a33" opacity="0.7"/><polygon points="952.5,310.0 957.5,305.0 995.0,305.0 1000.0,310.0" fill="#2a335f"/><polygon points="1000.0,189.0 995.0,201.0 995.0,305.0 1000.0,310.0" fill="#2a335f"/></g>
<g><rect x="1059.5" y="288.5" width="71.5" height="5" rx="2.5" fill="#d6d6d6" opacity="0.7" filter="url(#soft)"/><polygon points="1113.0,157.0 1128.0,154.0 1128.0,284.5 1113.0,290.5" fill="#f25c40"/><polygon points="1056.5,157.0 1060.5,153.5 1128.0,154.0 1113.0,157.0" fill="#ff8a70"/><rect x="1056.5" y="157.0" width="56.5" height="133.5" fill="#ff6d50"/><rect x="1063.5" y="161.5" width="45.5" height="120.5" fill="#fe6b4e"/><polygon points="1063.5,161.5 1109.0,161.5 1104.0,168.5 1068.5,168.5" fill="#ff4424"/><polygon points="1063.5,161.5 1068.5,168.5 1068.5,277.0 1063.5,282.0" fill="#ff4424" opacity="0.7"/><polygon points="1063.5,282.0 1068.5,277.0 1104.0,277.0 1109.0,282.0" fill="#ff7358"/><polygon points="1109.0,161.5 1104.0,168.5 1104.0,277.0 1109.0,282.0" fill="#ff7358"/></g>
<polyline points="933,181 933,316 1006.5,332.5 1032.5,311" fill="none" stroke="#2a2a2a" stroke-width="1.4"/>
<text x="0" y="0" transform="translate(920.8 312.5) rotate(-90.00)" font-family="Liberation Sans, sans-serif" font-size="23.0" fill="#222" textLength="130.0" lengthAdjust="spacingAndGlyphs" text-anchor="start" >3.4cm/1.3inch</text>
<text x="0" y="0" transform="translate(921.7 337.0) rotate(10.80)" font-family="Liberation Sans, sans-serif" font-size="12.5" fill="#222" textLength="80.0" lengthAdjust="spacingAndGlyphs" text-anchor="start" >1.8cm/0.7inch</text>
<text x="0" y="0" transform="translate(1011.0 349.0) rotate(-41.30)" font-family="Liberation Sans, sans-serif" font-size="12.5" fill="#222" textLength="82.0" lengthAdjust="spacingAndGlyphs" text-anchor="start" >0.5cm/0.2inch</text>
<text x="0" y="0" transform="translate(876.5 394.0) rotate(0.00)" font-family="Liberation Sans, sans-serif" font-size="40.0" fill="#111" textLength="287.5" lengthAdjust="spacingAndGlyphs" text-anchor="start" >3-color domino X 60</text>
<g><rect x="963" y="446" width="103" height="560" fill="#fbf4ec"/><path d="M966,447 L970,443 L1060,443 L1064,447 Z" fill="#f1e9df"/><rect x="1062" y="446" width="4" height="560" fill="#f3ebe2"/><rect x="963" y="446" width="2" height="560" fill="#f4ece3"/><rect x="996" y="484" width="34" height="134" rx="17" fill="#f1f1f1"/><path d="M997.5,502.0 a15.5,15.5 0 0,1 31,0 a15.5,11 0 0,0 -31,0 Z" fill="#8f7f72" opacity="0.85"/><rect x="996" y="484" width="34" height="134" rx="17" fill="none" stroke="#efe4d8" stroke-width="1.5"/><rect x="996" y="651" width="34" height="135" rx="17" fill="#f1f1f1"/><path d="M997.5,669.0 a15.5,15.5 0 0,1 31,0 a15.5,11 0 0,0 -31,0 Z" fill="#8f7f72" opacity="0.85"/><rect x="996" y="651" width="34" height="135" rx="17" fill="none" stroke="#efe4d8" stroke-width="1.5"/><rect x="996" y="819" width="34" height="133" rx="17" fill="#f1f1f1"/><path d="M997.5,837.0 a15.5,15.5 0 0,1 31,0 a15.5,11 0 0,0 -31,0 Z" fill="#8f7f72" opacity="0.85"/><rect x="996" y="819" width="34" height="133" rx="17" fill="none" stroke="#efe4d8" stroke-width="1.5"/><path d="M966.5,604 L966.5,499 L967.0,494 L975.5,494" fill="none" stroke="#a89a8c" stroke-width="1.3"/><line x1="975.5" y1="494" x2="975.5" y2="604" stroke="#a89a8c" stroke-width="1.3"/><line x1="970.5" y1="498" x2="970.5" y2="604" stroke="#e6dccf" stroke-width="1"/><path d="M1051.5,604 L1051.5,499 L1052.0,494 L1060.5,494" fill="none" stroke="#a89a8c" stroke-width="1.3"/><line x1="1060.5" y1="494" x2="1060.5" y2="604" stroke="#a89a8c" stroke-width="1.3"/><line x1="1055.5" y1="498" x2="1055.5" y2="604" stroke="#e6dccf" stroke-width="1"/><path d="M966.5,772 L966.5,667 L967.0,662 L975.5,662" fill="none" stroke="#a89a8c" stroke-width="1.3"/><line x1="975.5" y1="662" x2="975.5" y2="772" stroke="#a89a8c" stroke-width="1.3"/><line x1="970.5" y1="666" x2="970.5" y2="772" stroke="#e6dccf" stroke-width="1"/><path d="M1051.5,772 L1051.5,667 L1052.0,662 L1060.5,662" fill="none" stroke="#a89a8c" stroke-width="1.3"/><line x1="1060.5" y1="662" x2="1060.5" y2="772" stroke="#a89a8c" stroke-width="1.3"/><line x1="1055.5" y1="666" x2="1055.5" y2="772" stroke="#e6dccf" stroke-width="1"/><path d="M966.5,940 L966.5,837 L967.0,832 L975.5,832" fill="none" stroke="#a89a8c" stroke-width="1.3"/><line x1="975.5" y1="832" x2="975.5" y2="940" stroke="#a89a8c" stroke-width="1.3"/><line x1="970.5" y1="836" x2="970.5" y2="940" stroke="#e6dccf" stroke-width="1"/><path d="M1051.5,940 L1051.5,837 L1052.0,832 L1060.5,832" fill="none" stroke="#a89a8c" stroke-width="1.3"/><line x1="1060.5" y1="832" x2="1060.5" y2="940" stroke="#a89a8c" stroke-width="1.3"/><line x1="1055.5" y1="836" x2="1055.5" y2="940" stroke="#e6dccf" stroke-width="1"/><rect x="963" y="963" width="103" height="43" fill="#f9f2ea"/><polyline points="966,963 1005,965 1062,983" fill="none" stroke="#cfc3b5" stroke-width="1.3"/><polyline points="973,1006 973,980 989,980 989,1006" fill="none" stroke="#cfc3b5" stroke-width="1.1"/></g>
<line x1="1087.5" y1="450" x2="1087.5" y2="1008" stroke="#222" stroke-width="1.4"/>
<line x1="964.5" y1="1024.4" x2="1088.5" y2="1024.4" stroke="#222" stroke-width="1.4"/>
<text x="0" y="0" transform="translate(1099.7 681.5) rotate(90.00)" font-family="Liberation Sans, sans-serif" font-size="28.3" fill="#1a1a1a" textLength="160.0" lengthAdjust="spacingAndGlyphs" text-anchor="start" >25cm/9.8inch</text>
<text x="0" y="0" transform="translate(966.5 1047.0) rotate(0.00)" font-family="Liberation Sans, sans-serif" font-size="19.0" fill="#1a1a1a" textLength="118.0" lengthAdjust="spacingAndGlyphs" text-anchor="start" >4.8cm/1.9inch</text>
<g><rect x="150" y="924" width="150" height="74" fill="#2a5862"/><defs><linearGradient id="boil" x1="0" y1="0" x2="0" y2="1"><stop offset="0" stop-color="#2592aa"/><stop offset="0.55" stop-color="#1f819a"/><stop offset="1" stop-color="#17607a"/></linearGradient><linearGradient id="cabg" x1="0" y1="0" x2="1" y2="0"><stop offset="0" stop-color="#1e8199"/><stop offset="0.5" stop-color="#2089a1"/><stop offset="1" stop-color="#1d7f97"/></linearGradient></defs><path d="M241,788 Q334,758 459,787 L451,808 L447,904 L457,906 L451,1000 L259,1000 L259,814 L250,814 Z" fill="url(#cabg)"/><path d="M241,788 Q334,758 459,787 L455,797 Q334,770 246,796 Z" fill="#2c93aa"/><path d="M259,814 L262,814 L262,1000 L259,1000 Z" fill="#176a80"/><rect x="240" y="814" width="22" height="108" fill="#186c82"/><path d="M157,814 L250,814 Q259,814 259,830 L259,906 Q259,922 250,922 L157,922 Z" fill="url(#boil)"/><path d="M157,814 L250,814 Q256,814 257,822 L257,838 L157,838 Z" fill="#2894ac" opacity="0.7"/><path d="M157,904 L259,904 L259,906 Q259,922 250,922 L157,922 Z" fill="#145668"/><line x1="194.5" y1="815" x2="194.5" y2="837" stroke="#8fd0dc" stroke-width="1.2"/><path d="M157,921 L300,921 Q318,905 336,903 L447,903 L447,912 Q420,880 376,880 Q322,882 308,930 Q300,945 290,942 Q272,925 255,928 Q240,932 234,955 Q222,935 200,933 Q175,933 162,952 L157,952 Z" fill="#1f87a0"/><path d="M157,921 L300,921 L298,925 L157,925 Z" fill="#38a4ba"/><path d="M300,946 Q310,878 376,872 Q440,872 460,903 L450,910 Q430,884 376,884 Q322,888 312,946 Z" fill="#2f9ab0"/><rect x="176" y="943" width="50" height="12" fill="#8a8e90"/><rect x="186" y="946" width="10" height="8" fill="#3a3e40"/><rect x="205" y="945" width="18" height="6" fill="#b5b8ba"/><path d="M157,811 L142,811 Q125,813 125,840 L125,900 Q125,914 140,914 L157,914 Z" fill="#a9e0dc"/><path d="M115,858 Q115,848 126,846 L126,904 Q115,902 115,892 Z" fill="#4e8590"/><path d="M118,914 L160,914 L160,1000 L114,1000 Q108,980 110,955 Q112,930 118,914 Z" fill="#a5dedA"/><rect x="106" y="955" width="11" height="22" rx="3" fill="#95d2cd"/><path d="M172,780 L211,780 L202,797 L202,814 L181,814 L181,797 Z" fill="#f25a3a"/><rect x="189" y="779" width="5" height="4" fill="#f2f2f2"/><rect x="173" y="864.5" width="71" height="33" rx="16.5" fill="none" stroke="#ffffff" stroke-width="2.3" stroke-dasharray="7,4.5"/><rect x="191.5" y="874" width="29" height="13.5" rx="6.7" fill="#a8dccf"/><path d="M218,875 Q228,876 228,881 Q228,886 218,887 Z" fill="#8fc8a8"/><rect x="186" y="845" width="5" height="17" rx="2.5" fill="#2a93ab"/><rect x="186" y="898" width="5" height="13" rx="2.5" fill="#1d7188"/><rect x="226" y="845" width="5" height="17" rx="2.5" fill="#2a93ab"/><rect x="226" y="898" width="5" height="13" rx="2.5" fill="#1d7188"/><path d="M305,810 Q305,803 313,803 Q357,797 401,803 Q409,803 409,810 L409,862 Q409,868 401,866 Q357,852 313,866 Q305,868 305,862 Z" fill="#bfe7e3"/><path d="M312,812 Q357,805 402,812 L402,858 Q357,847 312,858 Z" fill="none" stroke="#6fb1b3" stroke-width="1.2"/><circle cx="331" cy="832" r="14.5" fill="#1f6b7d"/><text x="331" y="840" font-family="Liberation Sans, sans-serif" font-weight="bold" font-size="20" fill="#cdeee9" text-anchor="middle">1</text><text x="0" y="0" transform="translate(352.0 831.0) rotate(0.00)" font-family="Liberation Sans, sans-serif" font-size="18.0" font-weight="bold" fill="#1f6b7d" textLength="45.0" lengthAdjust="spacingAndGlyphs" text-anchor="start" >1819</text><text x="0" y="0" transform="translate(353.0 843.0) rotate(0.00)" font-family="Liberation Sans, sans-serif" font-size="10.5" font-weight="bold" fill="#1f6b7d" textLength="44.0" lengthAdjust="spacingAndGlyphs" text-anchor="start" >DOMINO</text><circle cx="376" cy="943" r="63" fill="#1a3f48"/><circle cx="376" cy="943" r="59" fill="#f25a3a"/><circle cx="376" cy="943" r="46" fill="#1f5563"/><line x1="376" y1="943" x2="423.8" y2="938.8" stroke="#f25a3a" stroke-width="8"/><line x1="376" y1="943" x2="403.5" y2="982.3" stroke="#f25a3a" stroke-width="8"/><line x1="376" y1="943" x2="355.7" y2="986.5" stroke="#f25a3a" stroke-width="8"/><line x1="376" y1="943" x2="328.2" y2="947.2" stroke="#f25a3a" stroke-width="8"/><line x1="376" y1="943" x2="348.5" y2="903.7" stroke="#f25a3a" stroke-width="8"/><line x1="376" y1="943" x2="396.3" y2="899.5" stroke="#f25a3a" stroke-width="8"/><circle cx="376" cy="943" r="19" fill="#f25a3a"/><circle cx="376" cy="943" r="9" fill="#e84e30"/><circle cx="197.5" cy="981" r="28.5" fill="#1e4a55"/><circle cx="197.5" cy="981" r="27" fill="#f25a3a"/><circle cx="197.5" cy="981" r="5" fill="#e04a2c"/><circle cx="266.0" cy="975" r="28.5" fill="#1e4a55"/><circle cx="266.0" cy="975" r="27" fill="#f25a3a"/><circle cx="266.0" cy="975" r="5" fill="#e04a2c"/></g>
<polyline points="488.4,767 488.4,996 462,1024 111,1024" fill="none" stroke="#333" stroke-width="1.4"/>
<text x="0" y="0" transform="translate(509.0 822.0) rotate(90.00)" font-family="Liberation Sans, sans-serif" font-size="20.3" fill="#1a1a1a" textLength="120.0" lengthAdjust="spacingAndGlyphs" text-anchor="start" >10.5cm/4.2inch</text>
<text x="0" y="0" transform="translate(487.0 1020.0) rotate(0.00)" font-family="Liberation Sans, sans-serif" font-size="16.0" fill="#1a1a1a" textLength="89.0" lengthAdjust="spacingAndGlyphs" text-anchor="start" >7cm/2.8inch</text>
<text x="0" y="0" transform="translate(226.7 1059.2) rotate(0.00)" font-family="Liberation Sans, sans-serif" font-size="24.3" fill="#1a1a1a" textLength="144.0" lengthAdjust="spacingAndGlyphs" text-anchor="start" >16cm/6.3inch</text>
<path d="M722.5,1003 L723,981 C705,978 680,968 668,952 C660,942 662,930 671,927 C680,924 688,930 694,938 C703,950 713,957 723,959 L722,940 C712,935 704,925 705,916 C706,910 714,909 718,913 L720,916 C718,905 719,895 726,889 C733,884 745,886 748,895 C751,905 748,930 745,958 C756,955 766,945 774,930 C780,920 793,918 797,930 C800,945 790,962 775,970 C765,977 752,980 743,980 L742.5,1003 Z" fill="#35879a"/>
<rect x="707.5" y="1001" width="48.5" height="12.5" rx="5" fill="#2f8092"/>
<g fill="none" stroke="#4a9aa8" stroke-width="1.1" stroke-dasharray="1.2,2.3" opacity="0.9"><path d="M670,935 C678,955 700,968 722,972"/><path d="M675,930 C684,948 704,960 722,965"/><path d="M792,930 C786,950 766,964 744,970"/><path d="M786,925 C780,943 762,956 744,963"/><path d="M728,893 C726,920 726,950 728,995"/><path d="M740,893 C742,920 740,950 737,995"/><path d="M709,915 C712,925 716,930 720,933"/></g>
<ellipse cx="732" cy="1003" rx="22" ry="3" fill="#4696a8"/>
<polyline points="811.7,881.5 811.7,1023 668.3,1023" fill="none" stroke="#333" stroke-width="1.4"/>
<text x="0" y="0" transform="translate(825.0 899.0) rotate(90.00)" font-family="Liberation Sans, sans-serif" font-size="20.3" fill="#1a1a1a" textLength="117.0" lengthAdjust="spacingAndGlyphs" text-anchor="start" >5.5cm/2.2inch</text>
<text x="0" y="0" transform="translate(678.3 1045.0) rotate(0.00)" font-family="Liberation Sans, sans-serif" font-size="18.2" fill="#1a1a1a" textLength="122.5" lengthAdjust="spacingAndGlyphs" text-anchor="start" >6.4cm/2.5inch</text>
<text x="0" y="0" transform="translate(228.0 1126.7) rotate(0.00)" font-family="Liberation Sans, sans-serif" font-size="33.0" fill="#111" textLength="143.7" lengthAdjust="spacingAndGlyphs" text-anchor="start" >train X 1</text>
<text x="0" y="0" transform="translate(590.0 1127.0) rotate(0.00)" font-family="Liberation Sans, sans-serif" font-size="29.0" fill="#111" textLength="293.5" lengthAdjust="spacingAndGlyphs" text-anchor="start" >Steering pendulum X 1</text>
<text x="0" y="0" transform="translate(941.0 1128.0) rotate(0.00)" font-family="Liberation Sans, sans-serif" font-size="26.6" fill="#111" textLength="195.0" lengthAdjust="spacingAndGlyphs" text-anchor="start" >Cartridge clip X 1</text>
</svg>
</body></html>
